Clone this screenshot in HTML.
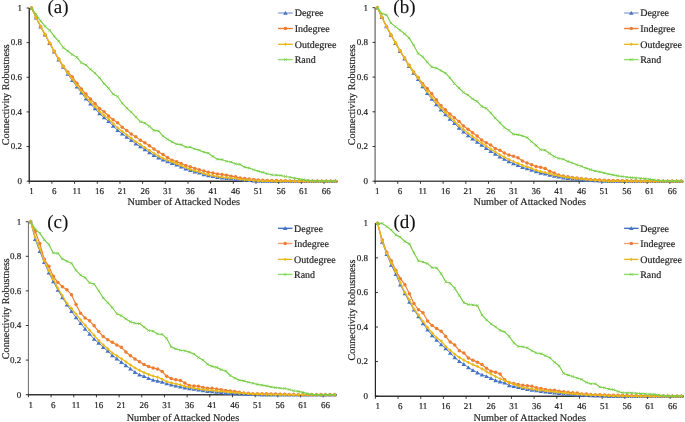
<!DOCTYPE html>
<html><head><meta charset="utf-8"><style>
html,body{margin:0;padding:0;background:#fff;width:685px;height:422px;overflow:hidden}
svg{display:block;will-change:transform}
text{font-family:"Liberation Serif",serif;fill:#1e1e1e;stroke:#1e1e1e;stroke-width:0.18px;text-rendering:geometricPrecision}
.t9{font-size:9px}
.t10{font-size:10px}
.tt{font-size:10.15px}
.tx{font-size:10.25px}
.t19{font-size:19px;fill:#111;stroke:#111;stroke-width:0.1px}
</style></head><body>
<svg width="685" height="422" viewBox="0 0 685 422">
<rect width="685" height="422" fill="#fff"/>
<g><path d="M29.24 8V181.2" stroke="#2a2a2a" stroke-width="1.4" fill="none"/><path d="M28.74 181.2H337.62" stroke="#2a2a2a" stroke-width="1.4" fill="none"/><path d="M26.64 181.2H29.24M26.64 146.56H29.24M26.64 111.92H29.24M26.64 77.28H29.24M26.64 42.64H29.24M26.64 8H29.24M29.24 181.2V183.8M51.91 181.2V183.8M74.59 181.2V183.8M97.27 181.2V183.8M119.94 181.2V183.8M142.62 181.2V183.8M165.29 181.2V183.8M187.97 181.2V183.8M210.64 181.2V183.8M233.32 181.2V183.8M255.99 181.2V183.8M278.67 181.2V183.8M301.34 181.2V183.8M324.02 181.2V183.8" stroke="#1e1e1e" stroke-width="0.9" fill="none"/><text x="22.1" y="184" text-anchor="end" class="t9">0</text><text x="22.1" y="149.36" text-anchor="end" class="t9">0.2</text><text x="22.1" y="114.72" text-anchor="end" class="t9">0.4</text><text x="22.1" y="80.08" text-anchor="end" class="t9">0.6</text><text x="22.1" y="45.44" text-anchor="end" class="t9">0.8</text><text x="22.1" y="10.8" text-anchor="end" class="t9">1</text><text x="31.51" y="194.2" text-anchor="middle" class="t9">1</text><text x="54.18" y="194.2" text-anchor="middle" class="t9">6</text><text x="76.86" y="194.2" text-anchor="middle" class="t9">11</text><text x="99.53" y="194.2" text-anchor="middle" class="t9">16</text><text x="122.21" y="194.2" text-anchor="middle" class="t9">21</text><text x="144.88" y="194.2" text-anchor="middle" class="t9">26</text><text x="167.56" y="194.2" text-anchor="middle" class="t9">31</text><text x="190.23" y="194.2" text-anchor="middle" class="t9">36</text><text x="212.91" y="194.2" text-anchor="middle" class="t9">41</text><text x="235.58" y="194.2" text-anchor="middle" class="t9">46</text><text x="258.26" y="194.2" text-anchor="middle" class="t9">51</text><text x="280.93" y="194.2" text-anchor="middle" class="t9">56</text><text x="303.61" y="194.2" text-anchor="middle" class="t9">61</text><text x="326.28" y="194.2" text-anchor="middle" class="t9">66</text><text x="127.6" y="205.4" class="tx">Number of Attacked Nodes</text><text transform="translate(9.4 94.7) rotate(-90)" text-anchor="middle" class="tt">Connectivity Robustness</text><text x="47.4" y="13.2" class="t19">(a)</text><polyline points="31.51,8 36.04,17.87 40.58,26.71 45.11,34.85 49.65,43.33 54.18,51.82 58.72,59.79 63.25,67.06 67.79,74.16 72.32,80.4 76.86,86.81 81.39,92.69 85.93,98.76 90.46,103.78 95,108.63 99.53,113.65 104.07,117.64 108.6,121.27 113.14,125.95 117.67,130.28 122.21,133.74 126.74,137.03 131.28,140.32 135.81,143.79 140.35,146.56 144.88,149.5 149.42,152.45 153.95,155.22 158.49,157.82 163.02,159.72 167.56,161.63 172.09,163.19 176.63,164.92 181.16,166.82 185.7,168.73 190.23,170.29 194.77,171.85 199.3,172.89 203.84,174.45 208.37,175.48 212.91,176.35 217.44,177.22 221.98,177.74 226.51,178.26 231.05,178.6 235.58,178.95 240.12,179.64 244.65,179.99 249.19,180.33 253.72,180.68 258.26,180.94 262.79,181.2 267.33,181.2 271.86,181.2 276.4,181.2 280.93,181.2 285.47,181.2 290,181.2 294.54,181.2 299.07,181.2 303.61,181.2 308.14,181.2 312.68,181.2 317.21,181.2 321.75,181.2 326.28,181.2 330.82,181.2 335.35,181.2" stroke="#5a84cc" stroke-width="1.0" fill="none" stroke-linejoin="round"/><path d="M29.21 9.7L31.51 5.9L33.81 9.7Z" fill="#4472c4"/><path d="M33.74 19.57L36.04 15.77L38.34 19.57Z" fill="#4472c4"/><path d="M38.28 28.41L40.58 24.61L42.88 28.41Z" fill="#4472c4"/><path d="M42.81 36.55L45.11 32.75L47.41 36.55Z" fill="#4472c4"/><path d="M47.35 45.03L49.65 41.23L51.95 45.03Z" fill="#4472c4"/><path d="M51.88 53.52L54.18 49.72L56.48 53.52Z" fill="#4472c4"/><path d="M56.42 61.49L58.72 57.69L61.02 61.49Z" fill="#4472c4"/><path d="M60.95 68.76L63.25 64.96L65.55 68.76Z" fill="#4472c4"/><path d="M65.49 75.86L67.79 72.06L70.09 75.86Z" fill="#4472c4"/><path d="M70.02 82.1L72.32 78.3L74.62 82.1Z" fill="#4472c4"/><path d="M74.56 88.51L76.86 84.71L79.16 88.51Z" fill="#4472c4"/><path d="M79.09 94.39L81.39 90.59L83.69 94.39Z" fill="#4472c4"/><path d="M83.63 100.46L85.93 96.66L88.23 100.46Z" fill="#4472c4"/><path d="M88.16 105.48L90.46 101.68L92.76 105.48Z" fill="#4472c4"/><path d="M92.7 110.33L95 106.53L97.3 110.33Z" fill="#4472c4"/><path d="M97.23 115.35L99.53 111.55L101.83 115.35Z" fill="#4472c4"/><path d="M101.77 119.34L104.07 115.54L106.37 119.34Z" fill="#4472c4"/><path d="M106.3 122.97L108.6 119.17L110.9 122.97Z" fill="#4472c4"/><path d="M110.84 127.65L113.14 123.85L115.44 127.65Z" fill="#4472c4"/><path d="M115.37 131.98L117.67 128.18L119.97 131.98Z" fill="#4472c4"/><path d="M119.91 135.44L122.21 131.64L124.51 135.44Z" fill="#4472c4"/><path d="M124.44 138.73L126.74 134.93L129.04 138.73Z" fill="#4472c4"/><path d="M128.98 142.02L131.28 138.22L133.58 142.02Z" fill="#4472c4"/><path d="M133.51 145.49L135.81 141.69L138.11 145.49Z" fill="#4472c4"/><path d="M138.05 148.26L140.35 144.46L142.65 148.26Z" fill="#4472c4"/><path d="M142.58 151.2L144.88 147.4L147.18 151.2Z" fill="#4472c4"/><path d="M147.12 154.15L149.42 150.35L151.72 154.15Z" fill="#4472c4"/><path d="M151.65 156.92L153.95 153.12L156.25 156.92Z" fill="#4472c4"/><path d="M156.19 159.52L158.49 155.72L160.79 159.52Z" fill="#4472c4"/><path d="M160.72 161.42L163.02 157.62L165.32 161.42Z" fill="#4472c4"/><path d="M165.26 163.33L167.56 159.53L169.86 163.33Z" fill="#4472c4"/><path d="M169.79 164.89L172.09 161.09L174.39 164.89Z" fill="#4472c4"/><path d="M174.33 166.62L176.63 162.82L178.93 166.62Z" fill="#4472c4"/><path d="M178.86 168.52L181.16 164.72L183.46 168.52Z" fill="#4472c4"/><path d="M183.4 170.43L185.7 166.63L188 170.43Z" fill="#4472c4"/><path d="M187.93 171.99L190.23 168.19L192.53 171.99Z" fill="#4472c4"/><path d="M192.47 173.55L194.77 169.75L197.07 173.55Z" fill="#4472c4"/><path d="M197 174.59L199.3 170.79L201.6 174.59Z" fill="#4472c4"/><path d="M201.54 176.15L203.84 172.35L206.14 176.15Z" fill="#4472c4"/><path d="M206.07 177.18L208.37 173.38L210.67 177.18Z" fill="#4472c4"/><path d="M210.61 178.05L212.91 174.25L215.21 178.05Z" fill="#4472c4"/><path d="M215.14 178.92L217.44 175.12L219.74 178.92Z" fill="#4472c4"/><path d="M219.68 179.44L221.98 175.64L224.28 179.44Z" fill="#4472c4"/><path d="M224.21 179.96L226.51 176.16L228.81 179.96Z" fill="#4472c4"/><path d="M228.75 180.3L231.05 176.5L233.35 180.3Z" fill="#4472c4"/><path d="M233.28 180.65L235.58 176.85L237.88 180.65Z" fill="#4472c4"/><path d="M237.82 181.34L240.12 177.54L242.42 181.34Z" fill="#4472c4"/><path d="M242.35 181.69L244.65 177.89L246.95 181.69Z" fill="#4472c4"/><path d="M246.89 182.03L249.19 178.23L251.49 182.03Z" fill="#4472c4"/><path d="M251.42 182.38L253.72 178.58L256.02 182.38Z" fill="#4472c4"/><path d="M255.96 182.64L258.26 178.84L260.56 182.64Z" fill="#4472c4"/><path d="M260.49 182.9L262.79 179.1L265.09 182.9Z" fill="#4472c4"/><path d="M265.03 182.9L267.33 179.1L269.63 182.9Z" fill="#4472c4"/><path d="M269.56 182.9L271.86 179.1L274.16 182.9Z" fill="#4472c4"/><path d="M274.1 182.9L276.4 179.1L278.7 182.9Z" fill="#4472c4"/><path d="M278.63 182.9L280.93 179.1L283.23 182.9Z" fill="#4472c4"/><path d="M283.17 182.9L285.47 179.1L287.77 182.9Z" fill="#4472c4"/><path d="M287.7 182.9L290 179.1L292.3 182.9Z" fill="#4472c4"/><path d="M292.24 182.9L294.54 179.1L296.84 182.9Z" fill="#4472c4"/><path d="M296.77 182.9L299.07 179.1L301.37 182.9Z" fill="#4472c4"/><path d="M301.31 182.9L303.61 179.1L305.91 182.9Z" fill="#4472c4"/><path d="M305.84 182.9L308.14 179.1L310.44 182.9Z" fill="#4472c4"/><path d="M310.38 182.9L312.68 179.1L314.98 182.9Z" fill="#4472c4"/><path d="M314.91 182.9L317.21 179.1L319.51 182.9Z" fill="#4472c4"/><path d="M319.45 182.9L321.75 179.1L324.05 182.9Z" fill="#4472c4"/><path d="M323.98 182.9L326.28 179.1L328.58 182.9Z" fill="#4472c4"/><path d="M328.52 182.9L330.82 179.1L333.12 182.9Z" fill="#4472c4"/><path d="M333.05 182.9L335.35 179.1L337.65 182.9Z" fill="#4472c4"/><polyline points="31.51,8 36.04,17.53 40.58,26.53 45.11,34.67 49.65,43.16 54.18,51.3 58.72,59.09 63.25,66.2 67.79,72.08 72.32,76.93 76.86,83.17 81.39,88.88 85.93,94.08 90.46,99.1 95,103.43 99.53,108.46 104.07,111.75 108.6,116.08 113.14,119.71 117.67,122.66 122.21,127.16 126.74,130.45 131.28,133.92 135.81,136.86 140.35,140.15 144.88,142.75 149.42,145.69 153.95,148.98 158.49,151.93 163.02,154.53 167.56,157.47 172.09,160.24 176.63,161.63 181.16,163.53 185.7,165.44 190.23,166.82 194.77,168.38 199.3,169.77 203.84,170.98 208.37,172.19 212.91,173.06 217.44,173.93 221.98,174.62 226.51,175.14 231.05,176.18 235.58,176.87 240.12,178.08 244.65,178.6 249.19,178.95 253.72,179.47 258.26,179.99 262.79,180.33 267.33,180.42 271.86,180.51 276.4,180.59 280.93,180.68 285.47,180.85 290,181.03 294.54,181.2 299.07,181.2 303.61,181.2 308.14,181.2 312.68,181.2 317.21,181.2 321.75,181.2 326.28,181.2 330.82,181.2 335.35,181.2" stroke="#ed7d31" stroke-width="1.15" fill="none" stroke-linejoin="round"/><circle cx="31.51" cy="8" r="1.75" fill="#ed7d31"/><circle cx="36.04" cy="17.53" r="1.75" fill="#ed7d31"/><circle cx="40.58" cy="26.53" r="1.75" fill="#ed7d31"/><circle cx="45.11" cy="34.67" r="1.75" fill="#ed7d31"/><circle cx="49.65" cy="43.16" r="1.75" fill="#ed7d31"/><circle cx="54.18" cy="51.3" r="1.75" fill="#ed7d31"/><circle cx="58.72" cy="59.09" r="1.75" fill="#ed7d31"/><circle cx="63.25" cy="66.2" r="1.75" fill="#ed7d31"/><circle cx="67.79" cy="72.08" r="1.75" fill="#ed7d31"/><circle cx="72.32" cy="76.93" r="1.75" fill="#ed7d31"/><circle cx="76.86" cy="83.17" r="1.75" fill="#ed7d31"/><circle cx="81.39" cy="88.88" r="1.75" fill="#ed7d31"/><circle cx="85.93" cy="94.08" r="1.75" fill="#ed7d31"/><circle cx="90.46" cy="99.1" r="1.75" fill="#ed7d31"/><circle cx="95" cy="103.43" r="1.75" fill="#ed7d31"/><circle cx="99.53" cy="108.46" r="1.75" fill="#ed7d31"/><circle cx="104.07" cy="111.75" r="1.75" fill="#ed7d31"/><circle cx="108.6" cy="116.08" r="1.75" fill="#ed7d31"/><circle cx="113.14" cy="119.71" r="1.75" fill="#ed7d31"/><circle cx="117.67" cy="122.66" r="1.75" fill="#ed7d31"/><circle cx="122.21" cy="127.16" r="1.75" fill="#ed7d31"/><circle cx="126.74" cy="130.45" r="1.75" fill="#ed7d31"/><circle cx="131.28" cy="133.92" r="1.75" fill="#ed7d31"/><circle cx="135.81" cy="136.86" r="1.75" fill="#ed7d31"/><circle cx="140.35" cy="140.15" r="1.75" fill="#ed7d31"/><circle cx="144.88" cy="142.75" r="1.75" fill="#ed7d31"/><circle cx="149.42" cy="145.69" r="1.75" fill="#ed7d31"/><circle cx="153.95" cy="148.98" r="1.75" fill="#ed7d31"/><circle cx="158.49" cy="151.93" r="1.75" fill="#ed7d31"/><circle cx="163.02" cy="154.53" r="1.75" fill="#ed7d31"/><circle cx="167.56" cy="157.47" r="1.75" fill="#ed7d31"/><circle cx="172.09" cy="160.24" r="1.75" fill="#ed7d31"/><circle cx="176.63" cy="161.63" r="1.75" fill="#ed7d31"/><circle cx="181.16" cy="163.53" r="1.75" fill="#ed7d31"/><circle cx="185.7" cy="165.44" r="1.75" fill="#ed7d31"/><circle cx="190.23" cy="166.82" r="1.75" fill="#ed7d31"/><circle cx="194.77" cy="168.38" r="1.75" fill="#ed7d31"/><circle cx="199.3" cy="169.77" r="1.75" fill="#ed7d31"/><circle cx="203.84" cy="170.98" r="1.75" fill="#ed7d31"/><circle cx="208.37" cy="172.19" r="1.75" fill="#ed7d31"/><circle cx="212.91" cy="173.06" r="1.75" fill="#ed7d31"/><circle cx="217.44" cy="173.93" r="1.75" fill="#ed7d31"/><circle cx="221.98" cy="174.62" r="1.75" fill="#ed7d31"/><circle cx="226.51" cy="175.14" r="1.75" fill="#ed7d31"/><circle cx="231.05" cy="176.18" r="1.75" fill="#ed7d31"/><circle cx="235.58" cy="176.87" r="1.75" fill="#ed7d31"/><circle cx="240.12" cy="178.08" r="1.75" fill="#ed7d31"/><circle cx="244.65" cy="178.6" r="1.75" fill="#ed7d31"/><circle cx="249.19" cy="178.95" r="1.75" fill="#ed7d31"/><circle cx="253.72" cy="179.47" r="1.75" fill="#ed7d31"/><circle cx="258.26" cy="179.99" r="1.75" fill="#ed7d31"/><circle cx="262.79" cy="180.33" r="1.75" fill="#ed7d31"/><circle cx="267.33" cy="180.42" r="1.75" fill="#ed7d31"/><circle cx="271.86" cy="180.51" r="1.75" fill="#ed7d31"/><circle cx="276.4" cy="180.59" r="1.75" fill="#ed7d31"/><circle cx="280.93" cy="180.68" r="1.75" fill="#ed7d31"/><circle cx="285.47" cy="180.85" r="1.75" fill="#ed7d31"/><circle cx="290" cy="181.03" r="1.75" fill="#ed7d31"/><circle cx="294.54" cy="181.2" r="1.75" fill="#ed7d31"/><circle cx="299.07" cy="181.2" r="1.75" fill="#ed7d31"/><circle cx="303.61" cy="181.2" r="1.75" fill="#ed7d31"/><circle cx="308.14" cy="181.2" r="1.75" fill="#ed7d31"/><circle cx="312.68" cy="181.2" r="1.75" fill="#ed7d31"/><circle cx="317.21" cy="181.2" r="1.75" fill="#ed7d31"/><circle cx="321.75" cy="181.2" r="1.75" fill="#ed7d31"/><circle cx="326.28" cy="181.2" r="1.75" fill="#ed7d31"/><circle cx="330.82" cy="181.2" r="1.75" fill="#ed7d31"/><circle cx="335.35" cy="181.2" r="1.75" fill="#ed7d31"/><polyline points="31.51,8 36.04,17.61 40.58,26.19 45.11,34.29 49.65,42.74 54.18,51.2 58.72,59.13 63.25,66.37 67.79,73.12 72.32,79.01 76.86,85.28 81.39,91.03 85.93,96.96 90.46,101.84 95,106.55 99.53,111.5 104.07,115.42 108.6,118.99 113.14,123.59 117.67,127.85 122.21,131.39 126.74,134.75 131.28,138.11 135.81,141.64 140.35,144.48 144.88,147.47 149.42,150.46 153.95,153.27 158.49,155.91 163.02,158.34 167.56,160.24 172.09,161.8 176.63,163.53 181.16,165.51 185.7,167.49 190.23,169.13 194.77,170.76 199.3,171.87 203.84,173.5 208.37,174.62 212.91,175.55 217.44,176.49 221.98,177.08 226.51,177.67 231.05,178.08 235.58,178.5 240.12,179.26 244.65,179.68 249.19,180.09 253.72,180.51 258.26,180.85 262.79,181.2 267.33,181.2 271.86,181.2 276.4,181.2 280.93,181.2 285.47,181.2 290,181.2 294.54,181.2 299.07,181.2 303.61,181.2 308.14,181.2 312.68,181.2 317.21,181.2 321.75,181.2 326.28,181.2 330.82,181.2 335.35,181.2" stroke="#e8b91e" stroke-width="1.3" fill="none" stroke-linejoin="round"/><path d="M30.01 8H33.01M31.51 6.5V9.5" stroke="#e8b91e" stroke-width="1.2" fill="none"/><path d="M34.54 17.61H37.54M36.04 16.11V19.11" stroke="#e8b91e" stroke-width="1.2" fill="none"/><path d="M39.08 26.19H42.08M40.58 24.69V27.69" stroke="#e8b91e" stroke-width="1.2" fill="none"/><path d="M43.61 34.29H46.61M45.11 32.79V35.79" stroke="#e8b91e" stroke-width="1.2" fill="none"/><path d="M48.15 42.74H51.15M49.65 41.24V44.24" stroke="#e8b91e" stroke-width="1.2" fill="none"/><path d="M52.68 51.2H55.68M54.18 49.7V52.7" stroke="#e8b91e" stroke-width="1.2" fill="none"/><path d="M57.22 59.13H60.22M58.72 57.63V60.63" stroke="#e8b91e" stroke-width="1.2" fill="none"/><path d="M61.75 66.37H64.75M63.25 64.87V67.87" stroke="#e8b91e" stroke-width="1.2" fill="none"/><path d="M66.29 73.12H69.29M67.79 71.62V74.62" stroke="#e8b91e" stroke-width="1.2" fill="none"/><path d="M70.82 79.01H73.82M72.32 77.51V80.51" stroke="#e8b91e" stroke-width="1.2" fill="none"/><path d="M75.36 85.28H78.36M76.86 83.78V86.78" stroke="#e8b91e" stroke-width="1.2" fill="none"/><path d="M79.89 91.03H82.89M81.39 89.53V92.53" stroke="#e8b91e" stroke-width="1.2" fill="none"/><path d="M84.43 96.96H87.43M85.93 95.46V98.46" stroke="#e8b91e" stroke-width="1.2" fill="none"/><path d="M88.96 101.84H91.96M90.46 100.34V103.34" stroke="#e8b91e" stroke-width="1.2" fill="none"/><path d="M93.5 106.55H96.5M95 105.05V108.05" stroke="#e8b91e" stroke-width="1.2" fill="none"/><path d="M98.03 111.5H101.03M99.53 110V113" stroke="#e8b91e" stroke-width="1.2" fill="none"/><path d="M102.57 115.42H105.57M104.07 113.92V116.92" stroke="#e8b91e" stroke-width="1.2" fill="none"/><path d="M107.1 118.99H110.1M108.6 117.49V120.49" stroke="#e8b91e" stroke-width="1.2" fill="none"/><path d="M111.64 123.59H114.64M113.14 122.09V125.09" stroke="#e8b91e" stroke-width="1.2" fill="none"/><path d="M116.17 127.85H119.17M117.67 126.35V129.35" stroke="#e8b91e" stroke-width="1.2" fill="none"/><path d="M120.71 131.39H123.71M122.21 129.89V132.89" stroke="#e8b91e" stroke-width="1.2" fill="none"/><path d="M125.24 134.75H128.24M126.74 133.25V136.25" stroke="#e8b91e" stroke-width="1.2" fill="none"/><path d="M129.78 138.11H132.78M131.28 136.61V139.61" stroke="#e8b91e" stroke-width="1.2" fill="none"/><path d="M134.31 141.64H137.31M135.81 140.14V143.14" stroke="#e8b91e" stroke-width="1.2" fill="none"/><path d="M138.85 144.48H141.85M140.35 142.98V145.98" stroke="#e8b91e" stroke-width="1.2" fill="none"/><path d="M143.38 147.47H146.38M144.88 145.97V148.97" stroke="#e8b91e" stroke-width="1.2" fill="none"/><path d="M147.92 150.46H150.92M149.42 148.96V151.96" stroke="#e8b91e" stroke-width="1.2" fill="none"/><path d="M152.45 153.27H155.45M153.95 151.77V154.77" stroke="#e8b91e" stroke-width="1.2" fill="none"/><path d="M156.99 155.91H159.99M158.49 154.41V157.41" stroke="#e8b91e" stroke-width="1.2" fill="none"/><path d="M161.52 158.34H164.52M163.02 156.84V159.84" stroke="#e8b91e" stroke-width="1.2" fill="none"/><path d="M166.06 160.24H169.06M167.56 158.74V161.74" stroke="#e8b91e" stroke-width="1.2" fill="none"/><path d="M170.59 161.8H173.59M172.09 160.3V163.3" stroke="#e8b91e" stroke-width="1.2" fill="none"/><path d="M175.13 163.53H178.13M176.63 162.03V165.03" stroke="#e8b91e" stroke-width="1.2" fill="none"/><path d="M179.66 165.51H182.66M181.16 164.01V167.01" stroke="#e8b91e" stroke-width="1.2" fill="none"/><path d="M184.2 167.49H187.2M185.7 165.99V168.99" stroke="#e8b91e" stroke-width="1.2" fill="none"/><path d="M188.73 169.13H191.73M190.23 167.63V170.63" stroke="#e8b91e" stroke-width="1.2" fill="none"/><path d="M193.27 170.76H196.27M194.77 169.26V172.26" stroke="#e8b91e" stroke-width="1.2" fill="none"/><path d="M197.8 171.87H200.8M199.3 170.37V173.37" stroke="#e8b91e" stroke-width="1.2" fill="none"/><path d="M202.34 173.5H205.34M203.84 172V175" stroke="#e8b91e" stroke-width="1.2" fill="none"/><path d="M206.87 174.62H209.87M208.37 173.12V176.12" stroke="#e8b91e" stroke-width="1.2" fill="none"/><path d="M211.41 175.55H214.41M212.91 174.05V177.05" stroke="#e8b91e" stroke-width="1.2" fill="none"/><path d="M215.94 176.49H218.94M217.44 174.99V177.99" stroke="#e8b91e" stroke-width="1.2" fill="none"/><path d="M220.48 177.08H223.48M221.98 175.58V178.58" stroke="#e8b91e" stroke-width="1.2" fill="none"/><path d="M225.01 177.67H228.01M226.51 176.17V179.17" stroke="#e8b91e" stroke-width="1.2" fill="none"/><path d="M229.55 178.08H232.55M231.05 176.58V179.58" stroke="#e8b91e" stroke-width="1.2" fill="none"/><path d="M234.08 178.5H237.08M235.58 177V180" stroke="#e8b91e" stroke-width="1.2" fill="none"/><path d="M238.62 179.26H241.62M240.12 177.76V180.76" stroke="#e8b91e" stroke-width="1.2" fill="none"/><path d="M243.15 179.68H246.15M244.65 178.18V181.18" stroke="#e8b91e" stroke-width="1.2" fill="none"/><path d="M247.69 180.09H250.69M249.19 178.59V181.59" stroke="#e8b91e" stroke-width="1.2" fill="none"/><path d="M252.22 180.51H255.22M253.72 179.01V182.01" stroke="#e8b91e" stroke-width="1.2" fill="none"/><path d="M256.76 180.85H259.76M258.26 179.35V182.35" stroke="#e8b91e" stroke-width="1.2" fill="none"/><path d="M261.29 181.2H264.29M262.79 179.7V182.7" stroke="#e8b91e" stroke-width="1.2" fill="none"/><path d="M265.83 181.2H268.83M267.33 179.7V182.7" stroke="#e8b91e" stroke-width="1.2" fill="none"/><path d="M270.36 181.2H273.36M271.86 179.7V182.7" stroke="#e8b91e" stroke-width="1.2" fill="none"/><path d="M274.9 181.2H277.9M276.4 179.7V182.7" stroke="#e8b91e" stroke-width="1.2" fill="none"/><path d="M279.43 181.2H282.43M280.93 179.7V182.7" stroke="#e8b91e" stroke-width="1.2" fill="none"/><path d="M283.97 181.2H286.97M285.47 179.7V182.7" stroke="#e8b91e" stroke-width="1.2" fill="none"/><path d="M288.5 181.2H291.5M290 179.7V182.7" stroke="#e8b91e" stroke-width="1.2" fill="none"/><path d="M293.04 181.2H296.04M294.54 179.7V182.7" stroke="#e8b91e" stroke-width="1.2" fill="none"/><path d="M297.57 181.2H300.57M299.07 179.7V182.7" stroke="#e8b91e" stroke-width="1.2" fill="none"/><path d="M302.11 181.2H305.11M303.61 179.7V182.7" stroke="#e8b91e" stroke-width="1.2" fill="none"/><path d="M306.64 181.2H309.64M308.14 179.7V182.7" stroke="#e8b91e" stroke-width="1.2" fill="none"/><path d="M311.18 181.2H314.18M312.68 179.7V182.7" stroke="#e8b91e" stroke-width="1.2" fill="none"/><path d="M315.71 181.2H318.71M317.21 179.7V182.7" stroke="#e8b91e" stroke-width="1.2" fill="none"/><path d="M320.25 181.2H323.25M321.75 179.7V182.7" stroke="#e8b91e" stroke-width="1.2" fill="none"/><path d="M324.78 181.2H327.78M326.28 179.7V182.7" stroke="#e8b91e" stroke-width="1.2" fill="none"/><path d="M329.32 181.2H332.32M330.82 179.7V182.7" stroke="#e8b91e" stroke-width="1.2" fill="none"/><path d="M333.85 181.2H336.85M335.35 179.7V182.7" stroke="#e8b91e" stroke-width="1.2" fill="none"/><polyline points="31.51,8 36.04,14.24 40.58,20.99 45.11,26.36 49.65,30.34 54.18,36.23 58.72,41.25 63.25,47.49 67.79,50.95 72.32,54.59 76.86,57.36 81.39,62.73 85.93,64.98 90.46,69.31 95,73.12 99.53,77.8 104.07,83.52 108.6,88.36 113.14,94.25 117.67,96.51 122.21,103.26 126.74,107.94 131.28,112.09 135.81,116.94 140.35,121.62 144.88,123.18 149.42,126.3 153.95,130.45 158.49,130.97 163.02,136.17 167.56,139.29 172.09,141.88 176.63,144.14 181.16,144.65 185.7,147.08 190.23,147.08 194.77,148.98 199.3,150.2 203.84,152.1 208.37,153.14 212.91,156.43 217.44,159.2 221.98,159.55 226.51,161.28 231.05,161.97 235.58,163.88 240.12,164.4 244.65,167.17 249.19,168.04 253.72,169.77 258.26,171.15 262.79,172.37 267.33,173.75 271.86,174.79 276.4,175.14 280.93,175.48 285.47,176.52 290,177.22 294.54,178.08 299.07,178.95 303.61,179.64 308.14,180.33 312.68,180.85 317.21,181.2 321.75,181.2 326.28,181.2 330.82,181.2 335.35,181.2" stroke="#7bd04a" stroke-width="1.2" fill="none" stroke-linejoin="round"/><path d="M30.21 6.7L32.81 9.3M32.81 6.7L30.21 9.3" stroke="#74ca44" stroke-width="0.7" fill="none"/><path d="M34.74 12.94L37.34 15.54M37.34 12.94L34.74 15.54" stroke="#74ca44" stroke-width="0.7" fill="none"/><path d="M39.28 19.69L41.88 22.29M41.88 19.69L39.28 22.29" stroke="#74ca44" stroke-width="0.7" fill="none"/><path d="M43.81 25.06L46.41 27.66M46.41 25.06L43.81 27.66" stroke="#74ca44" stroke-width="0.7" fill="none"/><path d="M48.35 29.04L50.95 31.64M50.95 29.04L48.35 31.64" stroke="#74ca44" stroke-width="0.7" fill="none"/><path d="M52.88 34.93L55.48 37.53M55.48 34.93L52.88 37.53" stroke="#74ca44" stroke-width="0.7" fill="none"/><path d="M57.42 39.95L60.02 42.55M60.02 39.95L57.42 42.55" stroke="#74ca44" stroke-width="0.7" fill="none"/><path d="M61.95 46.19L64.55 48.79M64.55 46.19L61.95 48.79" stroke="#74ca44" stroke-width="0.7" fill="none"/><path d="M66.49 49.65L69.09 52.25M69.09 49.65L66.49 52.25" stroke="#74ca44" stroke-width="0.7" fill="none"/><path d="M71.02 53.29L73.62 55.89M73.62 53.29L71.02 55.89" stroke="#74ca44" stroke-width="0.7" fill="none"/><path d="M75.56 56.06L78.16 58.66M78.16 56.06L75.56 58.66" stroke="#74ca44" stroke-width="0.7" fill="none"/><path d="M80.09 61.43L82.69 64.03M82.69 61.43L80.09 64.03" stroke="#74ca44" stroke-width="0.7" fill="none"/><path d="M84.63 63.68L87.23 66.28M87.23 63.68L84.63 66.28" stroke="#74ca44" stroke-width="0.7" fill="none"/><path d="M89.16 68.01L91.76 70.61M91.76 68.01L89.16 70.61" stroke="#74ca44" stroke-width="0.7" fill="none"/><path d="M93.7 71.82L96.3 74.42M96.3 71.82L93.7 74.42" stroke="#74ca44" stroke-width="0.7" fill="none"/><path d="M98.23 76.5L100.83 79.1M100.83 76.5L98.23 79.1" stroke="#74ca44" stroke-width="0.7" fill="none"/><path d="M102.77 82.22L105.37 84.82M105.37 82.22L102.77 84.82" stroke="#74ca44" stroke-width="0.7" fill="none"/><path d="M107.3 87.06L109.9 89.66M109.9 87.06L107.3 89.66" stroke="#74ca44" stroke-width="0.7" fill="none"/><path d="M111.84 92.95L114.44 95.55M114.44 92.95L111.84 95.55" stroke="#74ca44" stroke-width="0.7" fill="none"/><path d="M116.37 95.21L118.97 97.81M118.97 95.21L116.37 97.81" stroke="#74ca44" stroke-width="0.7" fill="none"/><path d="M120.91 101.96L123.51 104.56M123.51 101.96L120.91 104.56" stroke="#74ca44" stroke-width="0.7" fill="none"/><path d="M125.44 106.64L128.04 109.24M128.04 106.64L125.44 109.24" stroke="#74ca44" stroke-width="0.7" fill="none"/><path d="M129.98 110.79L132.58 113.39M132.58 110.79L129.98 113.39" stroke="#74ca44" stroke-width="0.7" fill="none"/><path d="M134.51 115.64L137.11 118.24M137.11 115.64L134.51 118.24" stroke="#74ca44" stroke-width="0.7" fill="none"/><path d="M139.05 120.32L141.65 122.92M141.65 120.32L139.05 122.92" stroke="#74ca44" stroke-width="0.7" fill="none"/><path d="M143.58 121.88L146.18 124.48M146.18 121.88L143.58 124.48" stroke="#74ca44" stroke-width="0.7" fill="none"/><path d="M148.12 125L150.72 127.6M150.72 125L148.12 127.6" stroke="#74ca44" stroke-width="0.7" fill="none"/><path d="M152.65 129.15L155.25 131.75M155.25 129.15L152.65 131.75" stroke="#74ca44" stroke-width="0.7" fill="none"/><path d="M157.19 129.67L159.79 132.27M159.79 129.67L157.19 132.27" stroke="#74ca44" stroke-width="0.7" fill="none"/><path d="M161.72 134.87L164.32 137.47M164.32 134.87L161.72 137.47" stroke="#74ca44" stroke-width="0.7" fill="none"/><path d="M166.26 137.99L168.86 140.59M168.86 137.99L166.26 140.59" stroke="#74ca44" stroke-width="0.7" fill="none"/><path d="M170.79 140.58L173.39 143.18M173.39 140.58L170.79 143.18" stroke="#74ca44" stroke-width="0.7" fill="none"/><path d="M175.33 142.84L177.93 145.44M177.93 142.84L175.33 145.44" stroke="#74ca44" stroke-width="0.7" fill="none"/><path d="M179.86 143.35L182.46 145.95M182.46 143.35L179.86 145.95" stroke="#74ca44" stroke-width="0.7" fill="none"/><path d="M184.4 145.78L187 148.38M187 145.78L184.4 148.38" stroke="#74ca44" stroke-width="0.7" fill="none"/><path d="M188.93 145.78L191.53 148.38M191.53 145.78L188.93 148.38" stroke="#74ca44" stroke-width="0.7" fill="none"/><path d="M193.47 147.68L196.07 150.28M196.07 147.68L193.47 150.28" stroke="#74ca44" stroke-width="0.7" fill="none"/><path d="M198 148.9L200.6 151.5M200.6 148.9L198 151.5" stroke="#74ca44" stroke-width="0.7" fill="none"/><path d="M202.54 150.8L205.14 153.4M205.14 150.8L202.54 153.4" stroke="#74ca44" stroke-width="0.7" fill="none"/><path d="M207.07 151.84L209.67 154.44M209.67 151.84L207.07 154.44" stroke="#74ca44" stroke-width="0.7" fill="none"/><path d="M211.61 155.13L214.21 157.73M214.21 155.13L211.61 157.73" stroke="#74ca44" stroke-width="0.7" fill="none"/><path d="M216.14 157.9L218.74 160.5M218.74 157.9L216.14 160.5" stroke="#74ca44" stroke-width="0.7" fill="none"/><path d="M220.68 158.25L223.28 160.85M223.28 158.25L220.68 160.85" stroke="#74ca44" stroke-width="0.7" fill="none"/><path d="M225.21 159.98L227.81 162.58M227.81 159.98L225.21 162.58" stroke="#74ca44" stroke-width="0.7" fill="none"/><path d="M229.75 160.67L232.35 163.27M232.35 160.67L229.75 163.27" stroke="#74ca44" stroke-width="0.7" fill="none"/><path d="M234.28 162.58L236.88 165.18M236.88 162.58L234.28 165.18" stroke="#74ca44" stroke-width="0.7" fill="none"/><path d="M238.82 163.1L241.42 165.7M241.42 163.1L238.82 165.7" stroke="#74ca44" stroke-width="0.7" fill="none"/><path d="M243.35 165.87L245.95 168.47M245.95 165.87L243.35 168.47" stroke="#74ca44" stroke-width="0.7" fill="none"/><path d="M247.89 166.74L250.49 169.34M250.49 166.74L247.89 169.34" stroke="#74ca44" stroke-width="0.7" fill="none"/><path d="M252.42 168.47L255.02 171.07M255.02 168.47L252.42 171.07" stroke="#74ca44" stroke-width="0.7" fill="none"/><path d="M256.96 169.85L259.56 172.45M259.56 169.85L256.96 172.45" stroke="#74ca44" stroke-width="0.7" fill="none"/><path d="M261.49 171.07L264.09 173.67M264.09 171.07L261.49 173.67" stroke="#74ca44" stroke-width="0.7" fill="none"/><path d="M266.03 172.45L268.63 175.05M268.63 172.45L266.03 175.05" stroke="#74ca44" stroke-width="0.7" fill="none"/><path d="M270.56 173.49L273.16 176.09M273.16 173.49L270.56 176.09" stroke="#74ca44" stroke-width="0.7" fill="none"/><path d="M275.1 173.84L277.7 176.44M277.7 173.84L275.1 176.44" stroke="#74ca44" stroke-width="0.7" fill="none"/><path d="M279.63 174.18L282.23 176.78M282.23 174.18L279.63 176.78" stroke="#74ca44" stroke-width="0.7" fill="none"/><path d="M284.17 175.22L286.77 177.82M286.77 175.22L284.17 177.82" stroke="#74ca44" stroke-width="0.7" fill="none"/><path d="M288.7 175.92L291.3 178.52M291.3 175.92L288.7 178.52" stroke="#74ca44" stroke-width="0.7" fill="none"/><path d="M293.24 176.78L295.84 179.38M295.84 176.78L293.24 179.38" stroke="#74ca44" stroke-width="0.7" fill="none"/><path d="M297.77 177.65L300.37 180.25M300.37 177.65L297.77 180.25" stroke="#74ca44" stroke-width="0.7" fill="none"/><path d="M302.31 178.34L304.91 180.94M304.91 178.34L302.31 180.94" stroke="#74ca44" stroke-width="0.7" fill="none"/><path d="M306.84 179.03L309.44 181.63M309.44 179.03L306.84 181.63" stroke="#74ca44" stroke-width="0.7" fill="none"/><path d="M311.38 179.55L313.98 182.15M313.98 179.55L311.38 182.15" stroke="#74ca44" stroke-width="0.7" fill="none"/><path d="M315.91 179.9L318.51 182.5M318.51 179.9L315.91 182.5" stroke="#74ca44" stroke-width="0.7" fill="none"/><path d="M320.45 179.9L323.05 182.5M323.05 179.9L320.45 182.5" stroke="#74ca44" stroke-width="0.7" fill="none"/><path d="M324.98 179.9L327.58 182.5M327.58 179.9L324.98 182.5" stroke="#74ca44" stroke-width="0.7" fill="none"/><path d="M329.52 179.9L332.12 182.5M332.12 179.9L329.52 182.5" stroke="#74ca44" stroke-width="0.7" fill="none"/><path d="M334.05 179.9L336.65 182.5M336.65 179.9L334.05 182.5" stroke="#74ca44" stroke-width="0.7" fill="none"/><path d="M278.1 13H292.8" stroke="#8fa9dc" stroke-width="1.4"/><path d="M283.15 14.7L285.45 10.9L287.75 14.7Z" fill="#4472c4"/><text x="294.7" y="16.4" class="t10">Degree</text><path d="M278.1 28.5H292.8" stroke="#ed7d31" stroke-width="1.4"/><circle cx="285.45" cy="28.5" r="1.75" fill="#ed7d31"/><text x="294.7" y="31.9" class="t10">Indegree</text><path d="M278.1 44.3H292.8" stroke="#e8b91e" stroke-width="1.4"/><path d="M283.95 44.3H286.95M285.45 42.8V45.8" stroke="#e8b91e" stroke-width="1.2" fill="none"/><text x="294.7" y="47.7" class="t10">Outdegree</text><path d="M278.1 59.6H292.8" stroke="#8fdc6a" stroke-width="1.4"/><path d="M284.15 58.3L286.75 60.9M286.75 58.3L284.15 60.9" stroke="#74ca44" stroke-width="0.7" fill="none"/><text x="294.7" y="63" class="t10">Rand</text></g><g><path d="M375.1 7.7V181.2" stroke="#6e6e6e" stroke-width="1.3" fill="none"/><path d="M374.6 181.2H683.48" stroke="#505050" stroke-width="1.4" fill="none"/><path d="M372.5 181.2H375.1M372.5 146.5H375.1M372.5 111.8H375.1M372.5 77.1H375.1M372.5 42.4H375.1M372.5 7.7H375.1M375.1 181.2V183.8M397.78 181.2V183.8M420.45 181.2V183.8M443.12 181.2V183.8M465.8 181.2V183.8M488.48 181.2V183.8M511.15 181.2V183.8M533.83 181.2V183.8M556.5 181.2V183.8M579.18 181.2V183.8M601.85 181.2V183.8M624.53 181.2V183.8M647.2 181.2V183.8M669.88 181.2V183.8" stroke="#1e1e1e" stroke-width="0.9" fill="none"/><text x="367.9" y="184" text-anchor="end" class="t9">0</text><text x="367.9" y="149.3" text-anchor="end" class="t9">0.2</text><text x="367.9" y="114.6" text-anchor="end" class="t9">0.4</text><text x="367.9" y="79.9" text-anchor="end" class="t9">0.6</text><text x="367.9" y="45.2" text-anchor="end" class="t9">0.8</text><text x="367.9" y="10.5" text-anchor="end" class="t9">1</text><text x="377.37" y="194.2" text-anchor="middle" class="t9">1</text><text x="400.04" y="194.2" text-anchor="middle" class="t9">6</text><text x="422.72" y="194.2" text-anchor="middle" class="t9">11</text><text x="445.39" y="194.2" text-anchor="middle" class="t9">16</text><text x="468.07" y="194.2" text-anchor="middle" class="t9">21</text><text x="490.74" y="194.2" text-anchor="middle" class="t9">26</text><text x="513.42" y="194.2" text-anchor="middle" class="t9">31</text><text x="536.09" y="194.2" text-anchor="middle" class="t9">36</text><text x="558.77" y="194.2" text-anchor="middle" class="t9">41</text><text x="581.44" y="194.2" text-anchor="middle" class="t9">46</text><text x="604.12" y="194.2" text-anchor="middle" class="t9">51</text><text x="626.79" y="194.2" text-anchor="middle" class="t9">56</text><text x="649.47" y="194.2" text-anchor="middle" class="t9">61</text><text x="672.14" y="194.2" text-anchor="middle" class="t9">66</text><text x="473.6" y="205.4" class="tx">Number of Attacked Nodes</text><text transform="translate(355.4 94.7) rotate(-90)" text-anchor="middle" class="tt">Connectivity Robustness</text><text x="393.35" y="13.2" class="t19">(b)</text><polyline points="377.37,7.7 381.9,17.42 386.44,26.61 390.97,35.11 395.51,43.27 400.04,51.25 404.58,58.71 409.11,66.34 413.65,72.94 418.18,79.18 422.72,86.47 427.25,93.24 431.79,98.96 436.32,104.51 440.86,109.72 445.39,114.58 449.93,119.09 454.46,123.42 459,127.94 463.53,131.75 468.07,135.57 472.6,138.69 477.14,141.99 481.67,145.11 486.21,148.23 490.74,151.18 495.28,153.96 499.81,156.91 504.35,159.17 508.88,161.59 513.42,163.5 517.95,165.41 522.49,167.32 527.02,168.53 531.56,170.1 536.09,171.66 540.63,173.05 545.16,173.91 549.7,175.13 554.23,176.17 558.77,176.86 563.3,177.73 567.84,178.25 572.37,178.77 576.91,179.12 581.44,179.46 585.98,179.99 590.51,180.33 595.05,180.59 599.58,180.85 604.12,181.03 608.65,181.2 613.19,181.2 617.72,181.2 622.26,181.2 626.79,181.2 631.33,181.2 635.86,181.2 640.4,181.2 644.93,181.2 649.47,181.2 654,181.2 658.54,181.2 663.07,181.2 667.61,181.2 672.14,181.2 676.68,181.2 681.21,181.2" stroke="#5a84cc" stroke-width="1.0" fill="none" stroke-linejoin="round"/><path d="M375.07 9.4L377.37 5.6L379.67 9.4Z" fill="#4472c4"/><path d="M379.6 19.12L381.9 15.32L384.2 19.12Z" fill="#4472c4"/><path d="M384.14 28.31L386.44 24.51L388.74 28.31Z" fill="#4472c4"/><path d="M388.67 36.81L390.97 33.01L393.27 36.81Z" fill="#4472c4"/><path d="M393.21 44.97L395.51 41.17L397.81 44.97Z" fill="#4472c4"/><path d="M397.74 52.95L400.04 49.15L402.34 52.95Z" fill="#4472c4"/><path d="M402.28 60.41L404.58 56.61L406.88 60.41Z" fill="#4472c4"/><path d="M406.81 68.04L409.11 64.24L411.41 68.04Z" fill="#4472c4"/><path d="M411.35 74.64L413.65 70.84L415.95 74.64Z" fill="#4472c4"/><path d="M415.88 80.88L418.18 77.08L420.48 80.88Z" fill="#4472c4"/><path d="M420.42 88.17L422.72 84.37L425.02 88.17Z" fill="#4472c4"/><path d="M424.95 94.94L427.25 91.14L429.55 94.94Z" fill="#4472c4"/><path d="M429.49 100.66L431.79 96.86L434.09 100.66Z" fill="#4472c4"/><path d="M434.02 106.21L436.32 102.41L438.62 106.21Z" fill="#4472c4"/><path d="M438.56 111.42L440.86 107.62L443.16 111.42Z" fill="#4472c4"/><path d="M443.09 116.28L445.39 112.48L447.69 116.28Z" fill="#4472c4"/><path d="M447.63 120.79L449.93 116.99L452.23 120.79Z" fill="#4472c4"/><path d="M452.16 125.12L454.46 121.32L456.76 125.12Z" fill="#4472c4"/><path d="M456.7 129.64L459 125.84L461.3 129.64Z" fill="#4472c4"/><path d="M461.23 133.45L463.53 129.65L465.83 133.45Z" fill="#4472c4"/><path d="M465.77 137.27L468.07 133.47L470.37 137.27Z" fill="#4472c4"/><path d="M470.3 140.39L472.6 136.59L474.9 140.39Z" fill="#4472c4"/><path d="M474.84 143.69L477.14 139.89L479.44 143.69Z" fill="#4472c4"/><path d="M479.37 146.81L481.67 143.01L483.97 146.81Z" fill="#4472c4"/><path d="M483.91 149.93L486.21 146.13L488.51 149.93Z" fill="#4472c4"/><path d="M488.44 152.88L490.74 149.08L493.04 152.88Z" fill="#4472c4"/><path d="M492.98 155.66L495.28 151.86L497.58 155.66Z" fill="#4472c4"/><path d="M497.51 158.61L499.81 154.81L502.11 158.61Z" fill="#4472c4"/><path d="M502.05 160.87L504.35 157.07L506.65 160.87Z" fill="#4472c4"/><path d="M506.58 163.29L508.88 159.49L511.18 163.29Z" fill="#4472c4"/><path d="M511.12 165.2L513.42 161.4L515.72 165.2Z" fill="#4472c4"/><path d="M515.65 167.11L517.95 163.31L520.25 167.11Z" fill="#4472c4"/><path d="M520.19 169.02L522.49 165.22L524.79 169.02Z" fill="#4472c4"/><path d="M524.72 170.23L527.02 166.43L529.32 170.23Z" fill="#4472c4"/><path d="M529.26 171.8L531.56 168L533.86 171.8Z" fill="#4472c4"/><path d="M533.79 173.36L536.09 169.56L538.39 173.36Z" fill="#4472c4"/><path d="M538.33 174.75L540.63 170.95L542.93 174.75Z" fill="#4472c4"/><path d="M542.86 175.61L545.16 171.81L547.46 175.61Z" fill="#4472c4"/><path d="M547.4 176.83L549.7 173.03L552 176.83Z" fill="#4472c4"/><path d="M551.93 177.87L554.23 174.07L556.53 177.87Z" fill="#4472c4"/><path d="M556.47 178.56L558.77 174.76L561.07 178.56Z" fill="#4472c4"/><path d="M561 179.43L563.3 175.63L565.6 179.43Z" fill="#4472c4"/><path d="M565.54 179.95L567.84 176.15L570.14 179.95Z" fill="#4472c4"/><path d="M570.07 180.47L572.37 176.67L574.67 180.47Z" fill="#4472c4"/><path d="M574.61 180.82L576.91 177.02L579.21 180.82Z" fill="#4472c4"/><path d="M579.14 181.16L581.44 177.36L583.74 181.16Z" fill="#4472c4"/><path d="M583.68 181.69L585.98 177.89L588.28 181.69Z" fill="#4472c4"/><path d="M588.21 182.03L590.51 178.23L592.81 182.03Z" fill="#4472c4"/><path d="M592.75 182.29L595.05 178.49L597.35 182.29Z" fill="#4472c4"/><path d="M597.28 182.55L599.58 178.75L601.88 182.55Z" fill="#4472c4"/><path d="M601.82 182.73L604.12 178.93L606.42 182.73Z" fill="#4472c4"/><path d="M606.35 182.9L608.65 179.1L610.95 182.9Z" fill="#4472c4"/><path d="M610.89 182.9L613.19 179.1L615.49 182.9Z" fill="#4472c4"/><path d="M615.42 182.9L617.72 179.1L620.02 182.9Z" fill="#4472c4"/><path d="M619.96 182.9L622.26 179.1L624.56 182.9Z" fill="#4472c4"/><path d="M624.49 182.9L626.79 179.1L629.09 182.9Z" fill="#4472c4"/><path d="M629.03 182.9L631.33 179.1L633.63 182.9Z" fill="#4472c4"/><path d="M633.56 182.9L635.86 179.1L638.16 182.9Z" fill="#4472c4"/><path d="M638.1 182.9L640.4 179.1L642.7 182.9Z" fill="#4472c4"/><path d="M642.63 182.9L644.93 179.1L647.23 182.9Z" fill="#4472c4"/><path d="M647.17 182.9L649.47 179.1L651.77 182.9Z" fill="#4472c4"/><path d="M651.7 182.9L654 179.1L656.3 182.9Z" fill="#4472c4"/><path d="M656.24 182.9L658.54 179.1L660.84 182.9Z" fill="#4472c4"/><path d="M660.77 182.9L663.07 179.1L665.37 182.9Z" fill="#4472c4"/><path d="M665.31 182.9L667.61 179.1L669.91 182.9Z" fill="#4472c4"/><path d="M669.84 182.9L672.14 179.1L674.44 182.9Z" fill="#4472c4"/><path d="M674.38 182.9L676.68 179.1L678.98 182.9Z" fill="#4472c4"/><path d="M678.91 182.9L681.21 179.1L683.51 182.9Z" fill="#4472c4"/><polyline points="377.37,7.7 381.9,17.24 386.44,26.44 390.97,34.94 395.51,42.92 400.04,50.73 404.58,58.02 409.11,65.3 413.65,71.89 418.18,77.62 422.72,83.69 427.25,88.38 431.79,93.76 436.32,99.83 440.86,105.55 445.39,109.72 449.93,114.06 454.46,117.87 459,121.52 463.53,126.03 468.07,129.32 472.6,132.79 477.14,135.92 481.67,140.08 486.21,142.86 490.74,145.11 495.28,148.58 499.81,150.32 504.35,153.09 508.88,155 513.42,156.22 517.95,157.78 522.49,161.07 527.02,162.98 531.56,164.72 536.09,166.45 540.63,167.32 545.16,168.53 549.7,171.14 554.23,173.05 558.77,174.95 563.3,175.99 567.84,176.86 572.37,177.56 576.91,178.08 581.44,178.6 585.98,178.94 590.51,179.46 595.05,179.64 599.58,179.99 604.12,180.33 608.65,180.42 613.19,180.51 617.72,180.59 622.26,180.68 626.79,180.81 631.33,180.94 635.86,181.07 640.4,181.2 644.93,181.2 649.47,181.2 654,181.2 658.54,181.2 663.07,181.2 667.61,181.2 672.14,181.2 676.68,181.2 681.21,181.2" stroke="#ed7d31" stroke-width="1.15" fill="none" stroke-linejoin="round"/><circle cx="377.37" cy="7.7" r="1.75" fill="#ed7d31"/><circle cx="381.9" cy="17.24" r="1.75" fill="#ed7d31"/><circle cx="386.44" cy="26.44" r="1.75" fill="#ed7d31"/><circle cx="390.97" cy="34.94" r="1.75" fill="#ed7d31"/><circle cx="395.51" cy="42.92" r="1.75" fill="#ed7d31"/><circle cx="400.04" cy="50.73" r="1.75" fill="#ed7d31"/><circle cx="404.58" cy="58.02" r="1.75" fill="#ed7d31"/><circle cx="409.11" cy="65.3" r="1.75" fill="#ed7d31"/><circle cx="413.65" cy="71.89" r="1.75" fill="#ed7d31"/><circle cx="418.18" cy="77.62" r="1.75" fill="#ed7d31"/><circle cx="422.72" cy="83.69" r="1.75" fill="#ed7d31"/><circle cx="427.25" cy="88.38" r="1.75" fill="#ed7d31"/><circle cx="431.79" cy="93.76" r="1.75" fill="#ed7d31"/><circle cx="436.32" cy="99.83" r="1.75" fill="#ed7d31"/><circle cx="440.86" cy="105.55" r="1.75" fill="#ed7d31"/><circle cx="445.39" cy="109.72" r="1.75" fill="#ed7d31"/><circle cx="449.93" cy="114.06" r="1.75" fill="#ed7d31"/><circle cx="454.46" cy="117.87" r="1.75" fill="#ed7d31"/><circle cx="459" cy="121.52" r="1.75" fill="#ed7d31"/><circle cx="463.53" cy="126.03" r="1.75" fill="#ed7d31"/><circle cx="468.07" cy="129.32" r="1.75" fill="#ed7d31"/><circle cx="472.6" cy="132.79" r="1.75" fill="#ed7d31"/><circle cx="477.14" cy="135.92" r="1.75" fill="#ed7d31"/><circle cx="481.67" cy="140.08" r="1.75" fill="#ed7d31"/><circle cx="486.21" cy="142.86" r="1.75" fill="#ed7d31"/><circle cx="490.74" cy="145.11" r="1.75" fill="#ed7d31"/><circle cx="495.28" cy="148.58" r="1.75" fill="#ed7d31"/><circle cx="499.81" cy="150.32" r="1.75" fill="#ed7d31"/><circle cx="504.35" cy="153.09" r="1.75" fill="#ed7d31"/><circle cx="508.88" cy="155" r="1.75" fill="#ed7d31"/><circle cx="513.42" cy="156.22" r="1.75" fill="#ed7d31"/><circle cx="517.95" cy="157.78" r="1.75" fill="#ed7d31"/><circle cx="522.49" cy="161.07" r="1.75" fill="#ed7d31"/><circle cx="527.02" cy="162.98" r="1.75" fill="#ed7d31"/><circle cx="531.56" cy="164.72" r="1.75" fill="#ed7d31"/><circle cx="536.09" cy="166.45" r="1.75" fill="#ed7d31"/><circle cx="540.63" cy="167.32" r="1.75" fill="#ed7d31"/><circle cx="545.16" cy="168.53" r="1.75" fill="#ed7d31"/><circle cx="549.7" cy="171.14" r="1.75" fill="#ed7d31"/><circle cx="554.23" cy="173.05" r="1.75" fill="#ed7d31"/><circle cx="558.77" cy="174.95" r="1.75" fill="#ed7d31"/><circle cx="563.3" cy="175.99" r="1.75" fill="#ed7d31"/><circle cx="567.84" cy="176.86" r="1.75" fill="#ed7d31"/><circle cx="572.37" cy="177.56" r="1.75" fill="#ed7d31"/><circle cx="576.91" cy="178.08" r="1.75" fill="#ed7d31"/><circle cx="581.44" cy="178.6" r="1.75" fill="#ed7d31"/><circle cx="585.98" cy="178.94" r="1.75" fill="#ed7d31"/><circle cx="590.51" cy="179.46" r="1.75" fill="#ed7d31"/><circle cx="595.05" cy="179.64" r="1.75" fill="#ed7d31"/><circle cx="599.58" cy="179.99" r="1.75" fill="#ed7d31"/><circle cx="604.12" cy="180.33" r="1.75" fill="#ed7d31"/><circle cx="608.65" cy="180.42" r="1.75" fill="#ed7d31"/><circle cx="613.19" cy="180.51" r="1.75" fill="#ed7d31"/><circle cx="617.72" cy="180.59" r="1.75" fill="#ed7d31"/><circle cx="622.26" cy="180.68" r="1.75" fill="#ed7d31"/><circle cx="626.79" cy="180.81" r="1.75" fill="#ed7d31"/><circle cx="631.33" cy="180.94" r="1.75" fill="#ed7d31"/><circle cx="635.86" cy="181.07" r="1.75" fill="#ed7d31"/><circle cx="640.4" cy="181.2" r="1.75" fill="#ed7d31"/><circle cx="644.93" cy="181.2" r="1.75" fill="#ed7d31"/><circle cx="649.47" cy="181.2" r="1.75" fill="#ed7d31"/><circle cx="654" cy="181.2" r="1.75" fill="#ed7d31"/><circle cx="658.54" cy="181.2" r="1.75" fill="#ed7d31"/><circle cx="663.07" cy="181.2" r="1.75" fill="#ed7d31"/><circle cx="667.61" cy="181.2" r="1.75" fill="#ed7d31"/><circle cx="672.14" cy="181.2" r="1.75" fill="#ed7d31"/><circle cx="676.68" cy="181.2" r="1.75" fill="#ed7d31"/><circle cx="681.21" cy="181.2" r="1.75" fill="#ed7d31"/><polyline points="377.37,7.7 381.9,17.16 386.44,26.09 390.97,34.56 395.51,42.68 400.04,50.62 404.58,58.05 409.11,65.65 413.65,71.89 418.18,77.79 422.72,84.94 427.25,91.57 431.79,97.16 436.32,102.57 440.86,107.64 445.39,112.46 449.93,116.94 454.46,121.24 459,125.71 463.53,129.5 468.07,133.33 472.6,136.47 477.14,139.79 481.67,142.93 486.21,146.07 490.74,149.03 495.28,151.83 499.81,154.79 504.35,157.07 508.88,159.51 513.42,161.49 517.95,163.47 522.49,165.45 527.02,166.73 531.56,168.36 536.09,170.03 540.63,171.52 545.16,172.49 549.7,173.81 554.23,174.95 558.77,175.75 563.3,176.72 567.84,177.35 572.37,177.97 576.91,178.42 581.44,178.84 585.98,179.43 590.51,179.85 595.05,180.18 599.58,180.51 604.12,180.85 608.65,181.2 613.19,181.2 617.72,181.2 622.26,181.2 626.79,181.2 631.33,181.2 635.86,181.2 640.4,181.2 644.93,181.2 649.47,181.2 654,181.2 658.54,181.2 663.07,181.2 667.61,181.2 672.14,181.2 676.68,181.2 681.21,181.2" stroke="#e8b91e" stroke-width="1.3" fill="none" stroke-linejoin="round"/><path d="M375.87 7.7H378.87M377.37 6.2V9.2" stroke="#e8b91e" stroke-width="1.2" fill="none"/><path d="M380.4 17.16H383.4M381.9 15.66V18.66" stroke="#e8b91e" stroke-width="1.2" fill="none"/><path d="M384.94 26.09H387.94M386.44 24.59V27.59" stroke="#e8b91e" stroke-width="1.2" fill="none"/><path d="M389.47 34.56H392.47M390.97 33.06V36.06" stroke="#e8b91e" stroke-width="1.2" fill="none"/><path d="M394.01 42.68H397.01M395.51 41.18V44.18" stroke="#e8b91e" stroke-width="1.2" fill="none"/><path d="M398.54 50.62H401.54M400.04 49.12V52.12" stroke="#e8b91e" stroke-width="1.2" fill="none"/><path d="M403.08 58.05H406.08M404.58 56.55V59.55" stroke="#e8b91e" stroke-width="1.2" fill="none"/><path d="M407.61 65.65H410.61M409.11 64.15V67.15" stroke="#e8b91e" stroke-width="1.2" fill="none"/><path d="M412.15 71.89H415.15M413.65 70.39V73.39" stroke="#e8b91e" stroke-width="1.2" fill="none"/><path d="M416.68 77.79H419.68M418.18 76.29V79.29" stroke="#e8b91e" stroke-width="1.2" fill="none"/><path d="M421.22 84.94H424.22M422.72 83.44V86.44" stroke="#e8b91e" stroke-width="1.2" fill="none"/><path d="M425.75 91.57H428.75M427.25 90.07V93.07" stroke="#e8b91e" stroke-width="1.2" fill="none"/><path d="M430.29 97.16H433.29M431.79 95.66V98.66" stroke="#e8b91e" stroke-width="1.2" fill="none"/><path d="M434.82 102.57H437.82M436.32 101.07V104.07" stroke="#e8b91e" stroke-width="1.2" fill="none"/><path d="M439.36 107.64H442.36M440.86 106.14V109.14" stroke="#e8b91e" stroke-width="1.2" fill="none"/><path d="M443.89 112.46H446.89M445.39 110.96V113.96" stroke="#e8b91e" stroke-width="1.2" fill="none"/><path d="M448.43 116.94H451.43M449.93 115.44V118.44" stroke="#e8b91e" stroke-width="1.2" fill="none"/><path d="M452.96 121.24H455.96M454.46 119.74V122.74" stroke="#e8b91e" stroke-width="1.2" fill="none"/><path d="M457.5 125.71H460.5M459 124.21V127.21" stroke="#e8b91e" stroke-width="1.2" fill="none"/><path d="M462.03 129.5H465.03M463.53 128V131" stroke="#e8b91e" stroke-width="1.2" fill="none"/><path d="M466.57 133.33H469.57M468.07 131.83V134.83" stroke="#e8b91e" stroke-width="1.2" fill="none"/><path d="M471.1 136.47H474.1M472.6 134.97V137.97" stroke="#e8b91e" stroke-width="1.2" fill="none"/><path d="M475.64 139.79H478.64M477.14 138.29V141.29" stroke="#e8b91e" stroke-width="1.2" fill="none"/><path d="M480.17 142.93H483.17M481.67 141.43V144.43" stroke="#e8b91e" stroke-width="1.2" fill="none"/><path d="M484.71 146.07H487.71M486.21 144.57V147.57" stroke="#e8b91e" stroke-width="1.2" fill="none"/><path d="M489.24 149.03H492.24M490.74 147.53V150.53" stroke="#e8b91e" stroke-width="1.2" fill="none"/><path d="M493.78 151.83H496.78M495.28 150.33V153.33" stroke="#e8b91e" stroke-width="1.2" fill="none"/><path d="M498.31 154.79H501.31M499.81 153.29V156.29" stroke="#e8b91e" stroke-width="1.2" fill="none"/><path d="M502.85 157.07H505.85M504.35 155.57V158.57" stroke="#e8b91e" stroke-width="1.2" fill="none"/><path d="M507.38 159.51H510.38M508.88 158.01V161.01" stroke="#e8b91e" stroke-width="1.2" fill="none"/><path d="M511.92 161.49H514.92M513.42 159.99V162.99" stroke="#e8b91e" stroke-width="1.2" fill="none"/><path d="M516.45 163.47H519.45M517.95 161.97V164.97" stroke="#e8b91e" stroke-width="1.2" fill="none"/><path d="M520.99 165.45H523.99M522.49 163.95V166.95" stroke="#e8b91e" stroke-width="1.2" fill="none"/><path d="M525.52 166.73H528.52M527.02 165.23V168.23" stroke="#e8b91e" stroke-width="1.2" fill="none"/><path d="M530.06 168.36H533.06M531.56 166.86V169.86" stroke="#e8b91e" stroke-width="1.2" fill="none"/><path d="M534.59 170.03H537.59M536.09 168.53V171.53" stroke="#e8b91e" stroke-width="1.2" fill="none"/><path d="M539.13 171.52H542.13M540.63 170.02V173.02" stroke="#e8b91e" stroke-width="1.2" fill="none"/><path d="M543.66 172.49H546.66M545.16 170.99V173.99" stroke="#e8b91e" stroke-width="1.2" fill="none"/><path d="M548.2 173.81H551.2M549.7 172.31V175.31" stroke="#e8b91e" stroke-width="1.2" fill="none"/><path d="M552.73 174.95H555.73M554.23 173.45V176.45" stroke="#e8b91e" stroke-width="1.2" fill="none"/><path d="M557.27 175.75H560.27M558.77 174.25V177.25" stroke="#e8b91e" stroke-width="1.2" fill="none"/><path d="M561.8 176.72H564.8M563.3 175.22V178.22" stroke="#e8b91e" stroke-width="1.2" fill="none"/><path d="M566.34 177.35H569.34M567.84 175.85V178.85" stroke="#e8b91e" stroke-width="1.2" fill="none"/><path d="M570.87 177.97H573.87M572.37 176.47V179.47" stroke="#e8b91e" stroke-width="1.2" fill="none"/><path d="M575.41 178.42H578.41M576.91 176.92V179.92" stroke="#e8b91e" stroke-width="1.2" fill="none"/><path d="M579.94 178.84H582.94M581.44 177.34V180.34" stroke="#e8b91e" stroke-width="1.2" fill="none"/><path d="M584.48 179.43H587.48M585.98 177.93V180.93" stroke="#e8b91e" stroke-width="1.2" fill="none"/><path d="M589.01 179.85H592.01M590.51 178.35V181.35" stroke="#e8b91e" stroke-width="1.2" fill="none"/><path d="M593.55 180.18H596.55M595.05 178.68V181.68" stroke="#e8b91e" stroke-width="1.2" fill="none"/><path d="M598.08 180.51H601.08M599.58 179.01V182.01" stroke="#e8b91e" stroke-width="1.2" fill="none"/><path d="M602.62 180.85H605.62M604.12 179.35V182.35" stroke="#e8b91e" stroke-width="1.2" fill="none"/><path d="M607.15 181.2H610.15M608.65 179.7V182.7" stroke="#e8b91e" stroke-width="1.2" fill="none"/><path d="M611.69 181.2H614.69M613.19 179.7V182.7" stroke="#e8b91e" stroke-width="1.2" fill="none"/><path d="M616.22 181.2H619.22M617.72 179.7V182.7" stroke="#e8b91e" stroke-width="1.2" fill="none"/><path d="M620.76 181.2H623.76M622.26 179.7V182.7" stroke="#e8b91e" stroke-width="1.2" fill="none"/><path d="M625.29 181.2H628.29M626.79 179.7V182.7" stroke="#e8b91e" stroke-width="1.2" fill="none"/><path d="M629.83 181.2H632.83M631.33 179.7V182.7" stroke="#e8b91e" stroke-width="1.2" fill="none"/><path d="M634.36 181.2H637.36M635.86 179.7V182.7" stroke="#e8b91e" stroke-width="1.2" fill="none"/><path d="M638.9 181.2H641.9M640.4 179.7V182.7" stroke="#e8b91e" stroke-width="1.2" fill="none"/><path d="M643.43 181.2H646.43M644.93 179.7V182.7" stroke="#e8b91e" stroke-width="1.2" fill="none"/><path d="M647.97 181.2H650.97M649.47 179.7V182.7" stroke="#e8b91e" stroke-width="1.2" fill="none"/><path d="M652.5 181.2H655.5M654 179.7V182.7" stroke="#e8b91e" stroke-width="1.2" fill="none"/><path d="M657.04 181.2H660.04M658.54 179.7V182.7" stroke="#e8b91e" stroke-width="1.2" fill="none"/><path d="M661.57 181.2H664.57M663.07 179.7V182.7" stroke="#e8b91e" stroke-width="1.2" fill="none"/><path d="M666.11 181.2H669.11M667.61 179.7V182.7" stroke="#e8b91e" stroke-width="1.2" fill="none"/><path d="M670.64 181.2H673.64M672.14 179.7V182.7" stroke="#e8b91e" stroke-width="1.2" fill="none"/><path d="M675.18 181.2H678.18M676.68 179.7V182.7" stroke="#e8b91e" stroke-width="1.2" fill="none"/><path d="M679.71 181.2H682.71M681.21 179.7V182.7" stroke="#e8b91e" stroke-width="1.2" fill="none"/><polyline points="377.37,7.7 381.9,13.6 386.44,14.81 390.97,23.14 395.51,26.61 400.04,30.25 404.58,33.72 409.11,37.89 413.65,45.18 418.18,53.5 422.72,56.8 427.25,62.18 431.79,67.04 436.32,68.08 440.86,70.51 445.39,73.11 449.93,77.79 454.46,83.69 459,88.03 463.53,92.54 468.07,95.14 472.6,98.96 477.14,101.39 481.67,106.42 486.21,108.33 490.74,112.84 495.28,118.05 499.81,122.73 504.35,127.41 508.88,130.36 513.42,134.18 517.95,134.7 522.49,135.92 527.02,137.48 531.56,141.64 536.09,145.46 540.63,149.62 545.16,150.14 549.7,153.44 554.23,156.56 558.77,158.47 563.3,159.17 567.84,161.42 572.37,162.98 576.91,164.72 581.44,166.28 585.98,168.19 590.51,169.58 595.05,170.96 599.58,171.83 604.12,172.87 608.65,174.09 613.19,174.95 617.72,175.82 622.26,176.52 626.79,177.21 631.33,177.56 635.86,177.9 640.4,178.25 644.93,178.6 649.47,179.2 654,179.81 658.54,180.51 663.07,181.2 667.61,181.2 672.14,181.2 676.68,181.2 681.21,181.2" stroke="#7bd04a" stroke-width="1.2" fill="none" stroke-linejoin="round"/><path d="M376.07 6.4L378.67 9M378.67 6.4L376.07 9" stroke="#74ca44" stroke-width="0.7" fill="none"/><path d="M380.6 12.3L383.2 14.9M383.2 12.3L380.6 14.9" stroke="#74ca44" stroke-width="0.7" fill="none"/><path d="M385.14 13.51L387.74 16.11M387.74 13.51L385.14 16.11" stroke="#74ca44" stroke-width="0.7" fill="none"/><path d="M389.67 21.84L392.27 24.44M392.27 21.84L389.67 24.44" stroke="#74ca44" stroke-width="0.7" fill="none"/><path d="M394.21 25.31L396.81 27.91M396.81 25.31L394.21 27.91" stroke="#74ca44" stroke-width="0.7" fill="none"/><path d="M398.74 28.95L401.34 31.55M401.34 28.95L398.74 31.55" stroke="#74ca44" stroke-width="0.7" fill="none"/><path d="M403.28 32.42L405.88 35.02M405.88 32.42L403.28 35.02" stroke="#74ca44" stroke-width="0.7" fill="none"/><path d="M407.81 36.59L410.41 39.19M410.41 36.59L407.81 39.19" stroke="#74ca44" stroke-width="0.7" fill="none"/><path d="M412.35 43.88L414.95 46.48M414.95 43.88L412.35 46.48" stroke="#74ca44" stroke-width="0.7" fill="none"/><path d="M416.88 52.2L419.48 54.8M419.48 52.2L416.88 54.8" stroke="#74ca44" stroke-width="0.7" fill="none"/><path d="M421.42 55.5L424.02 58.1M424.02 55.5L421.42 58.1" stroke="#74ca44" stroke-width="0.7" fill="none"/><path d="M425.95 60.88L428.55 63.48M428.55 60.88L425.95 63.48" stroke="#74ca44" stroke-width="0.7" fill="none"/><path d="M430.49 65.74L433.09 68.34M433.09 65.74L430.49 68.34" stroke="#74ca44" stroke-width="0.7" fill="none"/><path d="M435.02 66.78L437.62 69.38M437.62 66.78L435.02 69.38" stroke="#74ca44" stroke-width="0.7" fill="none"/><path d="M439.56 69.21L442.16 71.81M442.16 69.21L439.56 71.81" stroke="#74ca44" stroke-width="0.7" fill="none"/><path d="M444.09 71.81L446.69 74.41M446.69 71.81L444.09 74.41" stroke="#74ca44" stroke-width="0.7" fill="none"/><path d="M448.63 76.49L451.23 79.09M451.23 76.49L448.63 79.09" stroke="#74ca44" stroke-width="0.7" fill="none"/><path d="M453.16 82.39L455.76 84.99M455.76 82.39L453.16 84.99" stroke="#74ca44" stroke-width="0.7" fill="none"/><path d="M457.7 86.73L460.3 89.33M460.3 86.73L457.7 89.33" stroke="#74ca44" stroke-width="0.7" fill="none"/><path d="M462.23 91.24L464.83 93.84M464.83 91.24L462.23 93.84" stroke="#74ca44" stroke-width="0.7" fill="none"/><path d="M466.77 93.84L469.37 96.44M469.37 93.84L466.77 96.44" stroke="#74ca44" stroke-width="0.7" fill="none"/><path d="M471.3 97.66L473.9 100.26M473.9 97.66L471.3 100.26" stroke="#74ca44" stroke-width="0.7" fill="none"/><path d="M475.84 100.09L478.44 102.69M478.44 100.09L475.84 102.69" stroke="#74ca44" stroke-width="0.7" fill="none"/><path d="M480.37 105.12L482.97 107.72M482.97 105.12L480.37 107.72" stroke="#74ca44" stroke-width="0.7" fill="none"/><path d="M484.91 107.03L487.51 109.63M487.51 107.03L484.91 109.63" stroke="#74ca44" stroke-width="0.7" fill="none"/><path d="M489.44 111.54L492.04 114.14M492.04 111.54L489.44 114.14" stroke="#74ca44" stroke-width="0.7" fill="none"/><path d="M493.98 116.75L496.58 119.35M496.58 116.75L493.98 119.35" stroke="#74ca44" stroke-width="0.7" fill="none"/><path d="M498.51 121.43L501.11 124.03M501.11 121.43L498.51 124.03" stroke="#74ca44" stroke-width="0.7" fill="none"/><path d="M503.05 126.11L505.65 128.72M505.65 126.11L503.05 128.72" stroke="#74ca44" stroke-width="0.7" fill="none"/><path d="M507.58 129.06L510.18 131.66M510.18 129.06L507.58 131.66" stroke="#74ca44" stroke-width="0.7" fill="none"/><path d="M512.12 132.88L514.72 135.48M514.72 132.88L512.12 135.48" stroke="#74ca44" stroke-width="0.7" fill="none"/><path d="M516.65 133.4L519.25 136M519.25 133.4L516.65 136" stroke="#74ca44" stroke-width="0.7" fill="none"/><path d="M521.19 134.62L523.79 137.22M523.79 134.62L521.19 137.22" stroke="#74ca44" stroke-width="0.7" fill="none"/><path d="M525.72 136.18L528.32 138.78M528.32 136.18L525.72 138.78" stroke="#74ca44" stroke-width="0.7" fill="none"/><path d="M530.26 140.34L532.86 142.94M532.86 140.34L530.26 142.94" stroke="#74ca44" stroke-width="0.7" fill="none"/><path d="M534.79 144.16L537.39 146.76M537.39 144.16L534.79 146.76" stroke="#74ca44" stroke-width="0.7" fill="none"/><path d="M539.33 148.32L541.93 150.92M541.93 148.32L539.33 150.92" stroke="#74ca44" stroke-width="0.7" fill="none"/><path d="M543.86 148.84L546.46 151.44M546.46 148.84L543.86 151.44" stroke="#74ca44" stroke-width="0.7" fill="none"/><path d="M548.4 152.14L551 154.74M551 152.14L548.4 154.74" stroke="#74ca44" stroke-width="0.7" fill="none"/><path d="M552.93 155.26L555.53 157.86M555.53 155.26L552.93 157.86" stroke="#74ca44" stroke-width="0.7" fill="none"/><path d="M557.47 157.17L560.07 159.77M560.07 157.17L557.47 159.77" stroke="#74ca44" stroke-width="0.7" fill="none"/><path d="M562 157.87L564.6 160.47M564.6 157.87L562 160.47" stroke="#74ca44" stroke-width="0.7" fill="none"/><path d="M566.54 160.12L569.14 162.72M569.14 160.12L566.54 162.72" stroke="#74ca44" stroke-width="0.7" fill="none"/><path d="M571.07 161.68L573.67 164.28M573.67 161.68L571.07 164.28" stroke="#74ca44" stroke-width="0.7" fill="none"/><path d="M575.61 163.42L578.21 166.02M578.21 163.42L575.61 166.02" stroke="#74ca44" stroke-width="0.7" fill="none"/><path d="M580.14 164.98L582.74 167.58M582.74 164.98L580.14 167.58" stroke="#74ca44" stroke-width="0.7" fill="none"/><path d="M584.68 166.89L587.28 169.49M587.28 166.89L584.68 169.49" stroke="#74ca44" stroke-width="0.7" fill="none"/><path d="M589.21 168.28L591.81 170.88M591.81 168.28L589.21 170.88" stroke="#74ca44" stroke-width="0.7" fill="none"/><path d="M593.75 169.66L596.35 172.26M596.35 169.66L593.75 172.26" stroke="#74ca44" stroke-width="0.7" fill="none"/><path d="M598.28 170.53L600.88 173.13M600.88 170.53L598.28 173.13" stroke="#74ca44" stroke-width="0.7" fill="none"/><path d="M602.82 171.57L605.42 174.17M605.42 171.57L602.82 174.17" stroke="#74ca44" stroke-width="0.7" fill="none"/><path d="M607.35 172.79L609.95 175.39M609.95 172.79L607.35 175.39" stroke="#74ca44" stroke-width="0.7" fill="none"/><path d="M611.89 173.65L614.49 176.25M614.49 173.65L611.89 176.25" stroke="#74ca44" stroke-width="0.7" fill="none"/><path d="M616.42 174.52L619.02 177.12M619.02 174.52L616.42 177.12" stroke="#74ca44" stroke-width="0.7" fill="none"/><path d="M620.96 175.22L623.56 177.82M623.56 175.22L620.96 177.82" stroke="#74ca44" stroke-width="0.7" fill="none"/><path d="M625.49 175.91L628.09 178.51M628.09 175.91L625.49 178.51" stroke="#74ca44" stroke-width="0.7" fill="none"/><path d="M630.03 176.26L632.63 178.86M632.63 176.26L630.03 178.86" stroke="#74ca44" stroke-width="0.7" fill="none"/><path d="M634.56 176.6L637.16 179.2M637.16 176.6L634.56 179.2" stroke="#74ca44" stroke-width="0.7" fill="none"/><path d="M639.1 176.95L641.7 179.55M641.7 176.95L639.1 179.55" stroke="#74ca44" stroke-width="0.7" fill="none"/><path d="M643.63 177.3L646.23 179.9M646.23 177.3L643.63 179.9" stroke="#74ca44" stroke-width="0.7" fill="none"/><path d="M648.17 177.9L650.77 180.5M650.77 177.9L648.17 180.5" stroke="#74ca44" stroke-width="0.7" fill="none"/><path d="M652.7 178.51L655.3 181.11M655.3 178.51L652.7 181.11" stroke="#74ca44" stroke-width="0.7" fill="none"/><path d="M657.24 179.21L659.84 181.81M659.84 179.21L657.24 181.81" stroke="#74ca44" stroke-width="0.7" fill="none"/><path d="M661.77 179.9L664.37 182.5M664.37 179.9L661.77 182.5" stroke="#74ca44" stroke-width="0.7" fill="none"/><path d="M666.31 179.9L668.91 182.5M668.91 179.9L666.31 182.5" stroke="#74ca44" stroke-width="0.7" fill="none"/><path d="M670.84 179.9L673.44 182.5M673.44 179.9L670.84 182.5" stroke="#74ca44" stroke-width="0.7" fill="none"/><path d="M675.38 179.9L677.98 182.5M677.98 179.9L675.38 182.5" stroke="#74ca44" stroke-width="0.7" fill="none"/><path d="M679.91 179.9L682.51 182.5M682.51 179.9L679.91 182.5" stroke="#74ca44" stroke-width="0.7" fill="none"/><path d="M624.1 13H638.5" stroke="#8fa9dc" stroke-width="1.4"/><path d="M629 14.7L631.3 10.9L633.6 14.7Z" fill="#4472c4"/><text x="640.2" y="16.4" class="t10">Degree</text><path d="M624.1 28.5H638.5" stroke="#ed7d31" stroke-width="1.4"/><circle cx="631.3" cy="28.5" r="1.75" fill="#ed7d31"/><text x="640.2" y="31.9" class="t10">Indegree</text><path d="M624.1 44.3H638.5" stroke="#e8b91e" stroke-width="1.4"/><path d="M629.8 44.3H632.8M631.3 42.8V45.8" stroke="#e8b91e" stroke-width="1.2" fill="none"/><text x="640.2" y="47.7" class="t10">Outdegree</text><path d="M624.1 59.6H638.5" stroke="#8fdc6a" stroke-width="1.4"/><path d="M630 58.3L632.6 60.9M632.6 58.3L630 60.9" stroke="#74ca44" stroke-width="0.7" fill="none"/><text x="640.2" y="63" class="t10">Rand</text></g><g><path d="M28.4 221.7V394.7" stroke="#6a6a6a" stroke-width="1.0" fill="none"/><path d="M27.9 394.7H336.78" stroke="#383838" stroke-width="1.4" fill="none"/><path d="M25.8 394.7H28.4M25.8 360.1H28.4M25.8 325.5H28.4M25.8 290.9H28.4M25.8 256.3H28.4M25.8 221.7H28.4M28.4 394.7V397.3M51.08 394.7V397.3M73.75 394.7V397.3M96.43 394.7V397.3M119.1 394.7V397.3M141.78 394.7V397.3M164.45 394.7V397.3M187.12 394.7V397.3M209.8 394.7V397.3M232.48 394.7V397.3M255.15 394.7V397.3M277.82 394.7V397.3M300.5 394.7V397.3M323.18 394.7V397.3" stroke="#1e1e1e" stroke-width="0.9" fill="none"/><text x="21.3" y="397.5" text-anchor="end" class="t9">0</text><text x="21.3" y="362.9" text-anchor="end" class="t9">0.2</text><text x="21.3" y="328.3" text-anchor="end" class="t9">0.4</text><text x="21.3" y="293.7" text-anchor="end" class="t9">0.6</text><text x="21.3" y="259.1" text-anchor="end" class="t9">0.8</text><text x="21.3" y="224.5" text-anchor="end" class="t9">1</text><text x="30.67" y="407.8" text-anchor="middle" class="t9">1</text><text x="53.34" y="407.8" text-anchor="middle" class="t9">6</text><text x="76.02" y="407.8" text-anchor="middle" class="t9">11</text><text x="98.69" y="407.8" text-anchor="middle" class="t9">16</text><text x="121.37" y="407.8" text-anchor="middle" class="t9">21</text><text x="144.04" y="407.8" text-anchor="middle" class="t9">26</text><text x="166.72" y="407.8" text-anchor="middle" class="t9">31</text><text x="189.39" y="407.8" text-anchor="middle" class="t9">36</text><text x="212.07" y="407.8" text-anchor="middle" class="t9">41</text><text x="234.74" y="407.8" text-anchor="middle" class="t9">46</text><text x="257.42" y="407.8" text-anchor="middle" class="t9">51</text><text x="280.09" y="407.8" text-anchor="middle" class="t9">56</text><text x="302.77" y="407.8" text-anchor="middle" class="t9">61</text><text x="325.44" y="407.8" text-anchor="middle" class="t9">66</text><text x="126.7" y="420.7" class="tx">Number of Attacked Nodes</text><text transform="translate(9.4 308.7) rotate(-90)" text-anchor="middle" class="tt">Connectivity Robustness</text><text x="47.2" y="228" class="t19">(c)</text><polyline points="30.67,221.7 35.2,239.35 39.74,251.28 44.27,262.18 48.81,272.74 53.34,281.56 57.88,290.03 62.41,297.65 66.95,304.74 71.48,311.31 76.02,317.54 80.55,323.25 85.09,328.96 89.62,333.98 94.16,339.17 98.69,342.97 103.23,347.3 107.76,351.1 112.3,355.43 116.83,358.72 121.37,362.18 125.9,365.46 130.44,368.75 134.97,372.21 139.51,374.81 144.04,376.36 148.58,378.26 153.11,380.17 157.65,381.03 162.18,382.07 166.72,383.63 171.25,384.84 175.79,385.88 180.32,386.74 184.86,387.78 189.39,388.47 193.93,389.16 198.46,389.86 203,390.55 207.53,391.24 212.07,391.67 216.6,392.1 221.14,392.54 225.67,392.97 230.21,393.23 234.74,393.49 239.28,393.75 243.81,394.01 248.35,394.18 252.88,394.35 257.42,394.53 261.95,394.7 266.49,394.7 271.02,394.7 275.56,394.7 280.09,394.7 284.63,394.7 289.16,394.7 293.7,394.7 298.23,394.7 302.77,394.7 307.3,394.7 311.84,394.7 316.37,394.7 320.91,394.7 325.44,394.7 329.98,394.7 334.51,394.7" stroke="#5a84cc" stroke-width="1.0" fill="none" stroke-linejoin="round"/><path d="M28.37 223.4L30.67 219.6L32.97 223.4Z" fill="#4472c4"/><path d="M32.9 241.05L35.2 237.25L37.5 241.05Z" fill="#4472c4"/><path d="M37.44 252.98L39.74 249.18L42.04 252.98Z" fill="#4472c4"/><path d="M41.97 263.88L44.27 260.08L46.57 263.88Z" fill="#4472c4"/><path d="M46.51 274.44L48.81 270.63L51.11 274.44Z" fill="#4472c4"/><path d="M51.04 283.26L53.34 279.46L55.64 283.26Z" fill="#4472c4"/><path d="M55.58 291.73L57.88 287.93L60.18 291.73Z" fill="#4472c4"/><path d="M60.11 299.35L62.41 295.55L64.71 299.35Z" fill="#4472c4"/><path d="M64.65 306.44L66.95 302.64L69.25 306.44Z" fill="#4472c4"/><path d="M69.18 313.01L71.48 309.21L73.78 313.01Z" fill="#4472c4"/><path d="M73.72 319.24L76.02 315.44L78.32 319.24Z" fill="#4472c4"/><path d="M78.25 324.95L80.55 321.15L82.85 324.95Z" fill="#4472c4"/><path d="M82.79 330.66L85.09 326.86L87.39 330.66Z" fill="#4472c4"/><path d="M87.32 335.68L89.62 331.88L91.92 335.68Z" fill="#4472c4"/><path d="M91.86 340.87L94.16 337.07L96.46 340.87Z" fill="#4472c4"/><path d="M96.39 344.67L98.69 340.87L100.99 344.67Z" fill="#4472c4"/><path d="M100.93 349L103.23 345.2L105.53 349Z" fill="#4472c4"/><path d="M105.46 352.8L107.76 349L110.06 352.8Z" fill="#4472c4"/><path d="M110 357.13L112.3 353.33L114.6 357.13Z" fill="#4472c4"/><path d="M114.53 360.42L116.83 356.62L119.13 360.42Z" fill="#4472c4"/><path d="M119.07 363.88L121.37 360.08L123.67 363.88Z" fill="#4472c4"/><path d="M123.6 367.16L125.9 363.36L128.2 367.16Z" fill="#4472c4"/><path d="M128.14 370.45L130.44 366.65L132.74 370.45Z" fill="#4472c4"/><path d="M132.67 373.91L134.97 370.11L137.27 373.91Z" fill="#4472c4"/><path d="M137.21 376.5L139.51 372.7L141.81 376.5Z" fill="#4472c4"/><path d="M141.74 378.06L144.04 374.26L146.34 378.06Z" fill="#4472c4"/><path d="M146.28 379.96L148.58 376.16L150.88 379.96Z" fill="#4472c4"/><path d="M150.81 381.87L153.11 378.07L155.41 381.87Z" fill="#4472c4"/><path d="M155.35 382.73L157.65 378.93L159.95 382.73Z" fill="#4472c4"/><path d="M159.88 383.77L162.18 379.97L164.48 383.77Z" fill="#4472c4"/><path d="M164.42 385.33L166.72 381.53L169.02 385.33Z" fill="#4472c4"/><path d="M168.95 386.54L171.25 382.74L173.55 386.54Z" fill="#4472c4"/><path d="M173.49 387.58L175.79 383.78L178.09 387.58Z" fill="#4472c4"/><path d="M178.02 388.44L180.32 384.64L182.62 388.44Z" fill="#4472c4"/><path d="M182.56 389.48L184.86 385.68L187.16 389.48Z" fill="#4472c4"/><path d="M187.09 390.17L189.39 386.37L191.69 390.17Z" fill="#4472c4"/><path d="M191.63 390.86L193.93 387.06L196.23 390.86Z" fill="#4472c4"/><path d="M196.16 391.56L198.46 387.76L200.76 391.56Z" fill="#4472c4"/><path d="M200.7 392.25L203 388.45L205.3 392.25Z" fill="#4472c4"/><path d="M205.23 392.94L207.53 389.14L209.83 392.94Z" fill="#4472c4"/><path d="M209.77 393.37L212.07 389.57L214.37 393.37Z" fill="#4472c4"/><path d="M214.3 393.8L216.6 390L218.9 393.8Z" fill="#4472c4"/><path d="M218.84 394.24L221.14 390.44L223.44 394.24Z" fill="#4472c4"/><path d="M223.37 394.67L225.67 390.87L227.97 394.67Z" fill="#4472c4"/><path d="M227.91 394.93L230.21 391.13L232.51 394.93Z" fill="#4472c4"/><path d="M232.44 395.19L234.74 391.39L237.04 395.19Z" fill="#4472c4"/><path d="M236.98 395.45L239.28 391.65L241.58 395.45Z" fill="#4472c4"/><path d="M241.51 395.71L243.81 391.91L246.11 395.71Z" fill="#4472c4"/><path d="M246.05 395.88L248.35 392.08L250.65 395.88Z" fill="#4472c4"/><path d="M250.58 396.05L252.88 392.25L255.18 396.05Z" fill="#4472c4"/><path d="M255.12 396.23L257.42 392.43L259.72 396.23Z" fill="#4472c4"/><path d="M259.65 396.4L261.95 392.6L264.25 396.4Z" fill="#4472c4"/><path d="M264.19 396.4L266.49 392.6L268.79 396.4Z" fill="#4472c4"/><path d="M268.72 396.4L271.02 392.6L273.32 396.4Z" fill="#4472c4"/><path d="M273.26 396.4L275.56 392.6L277.86 396.4Z" fill="#4472c4"/><path d="M277.79 396.4L280.09 392.6L282.39 396.4Z" fill="#4472c4"/><path d="M282.33 396.4L284.63 392.6L286.93 396.4Z" fill="#4472c4"/><path d="M286.86 396.4L289.16 392.6L291.46 396.4Z" fill="#4472c4"/><path d="M291.4 396.4L293.7 392.6L296 396.4Z" fill="#4472c4"/><path d="M295.93 396.4L298.23 392.6L300.53 396.4Z" fill="#4472c4"/><path d="M300.47 396.4L302.77 392.6L305.07 396.4Z" fill="#4472c4"/><path d="M305 396.4L307.3 392.6L309.6 396.4Z" fill="#4472c4"/><path d="M309.54 396.4L311.84 392.6L314.14 396.4Z" fill="#4472c4"/><path d="M314.07 396.4L316.37 392.6L318.67 396.4Z" fill="#4472c4"/><path d="M318.61 396.4L320.91 392.6L323.21 396.4Z" fill="#4472c4"/><path d="M323.14 396.4L325.44 392.6L327.74 396.4Z" fill="#4472c4"/><path d="M327.68 396.4L329.98 392.6L332.28 396.4Z" fill="#4472c4"/><path d="M332.21 396.4L334.51 392.6L336.81 396.4Z" fill="#4472c4"/><polyline points="30.67,221.7 35.2,231.56 39.74,243.5 44.27,259.24 48.81,266.33 53.34,276.37 57.88,282.42 62.41,286.75 66.95,289.86 71.48,294.71 76.02,304.57 80.55,313.22 85.09,317.89 89.62,320.83 94.16,325.85 98.69,331.56 103.23,336.57 107.76,339.69 112.3,342.28 116.83,344.88 121.37,347.3 125.9,351.97 130.44,355.77 134.97,358.89 139.51,361.66 144.04,364.6 148.58,366.5 153.11,367.88 157.65,369.1 162.18,371.52 166.72,376.36 171.25,378.61 175.79,379.82 180.32,380.51 184.86,382.94 189.39,385.53 193.93,385.88 198.46,386.22 203,387.43 207.53,388.3 212.07,388.3 216.6,388.99 221.14,389.68 225.67,390.38 230.21,390.89 234.74,391.41 239.28,392.28 243.81,392.97 248.35,393.32 252.88,393.66 257.42,393.73 261.95,393.8 266.49,393.87 271.02,393.94 275.56,394.01 280.09,394.15 284.63,394.28 289.16,394.42 293.7,394.56 298.23,394.7 302.77,394.7 307.3,394.7 311.84,394.7 316.37,394.7 320.91,394.7 325.44,394.7 329.98,394.7 334.51,394.7" stroke="#ed7d31" stroke-width="1.15" fill="none" stroke-linejoin="round"/><circle cx="30.67" cy="221.7" r="1.75" fill="#ed7d31"/><circle cx="35.2" cy="231.56" r="1.75" fill="#ed7d31"/><circle cx="39.74" cy="243.5" r="1.75" fill="#ed7d31"/><circle cx="44.27" cy="259.24" r="1.75" fill="#ed7d31"/><circle cx="48.81" cy="266.33" r="1.75" fill="#ed7d31"/><circle cx="53.34" cy="276.37" r="1.75" fill="#ed7d31"/><circle cx="57.88" cy="282.42" r="1.75" fill="#ed7d31"/><circle cx="62.41" cy="286.75" r="1.75" fill="#ed7d31"/><circle cx="66.95" cy="289.86" r="1.75" fill="#ed7d31"/><circle cx="71.48" cy="294.71" r="1.75" fill="#ed7d31"/><circle cx="76.02" cy="304.57" r="1.75" fill="#ed7d31"/><circle cx="80.55" cy="313.22" r="1.75" fill="#ed7d31"/><circle cx="85.09" cy="317.89" r="1.75" fill="#ed7d31"/><circle cx="89.62" cy="320.83" r="1.75" fill="#ed7d31"/><circle cx="94.16" cy="325.85" r="1.75" fill="#ed7d31"/><circle cx="98.69" cy="331.56" r="1.75" fill="#ed7d31"/><circle cx="103.23" cy="336.57" r="1.75" fill="#ed7d31"/><circle cx="107.76" cy="339.69" r="1.75" fill="#ed7d31"/><circle cx="112.3" cy="342.28" r="1.75" fill="#ed7d31"/><circle cx="116.83" cy="344.88" r="1.75" fill="#ed7d31"/><circle cx="121.37" cy="347.3" r="1.75" fill="#ed7d31"/><circle cx="125.9" cy="351.97" r="1.75" fill="#ed7d31"/><circle cx="130.44" cy="355.77" r="1.75" fill="#ed7d31"/><circle cx="134.97" cy="358.89" r="1.75" fill="#ed7d31"/><circle cx="139.51" cy="361.66" r="1.75" fill="#ed7d31"/><circle cx="144.04" cy="364.6" r="1.75" fill="#ed7d31"/><circle cx="148.58" cy="366.5" r="1.75" fill="#ed7d31"/><circle cx="153.11" cy="367.88" r="1.75" fill="#ed7d31"/><circle cx="157.65" cy="369.1" r="1.75" fill="#ed7d31"/><circle cx="162.18" cy="371.52" r="1.75" fill="#ed7d31"/><circle cx="166.72" cy="376.36" r="1.75" fill="#ed7d31"/><circle cx="171.25" cy="378.61" r="1.75" fill="#ed7d31"/><circle cx="175.79" cy="379.82" r="1.75" fill="#ed7d31"/><circle cx="180.32" cy="380.51" r="1.75" fill="#ed7d31"/><circle cx="184.86" cy="382.94" r="1.75" fill="#ed7d31"/><circle cx="189.39" cy="385.53" r="1.75" fill="#ed7d31"/><circle cx="193.93" cy="385.88" r="1.75" fill="#ed7d31"/><circle cx="198.46" cy="386.22" r="1.75" fill="#ed7d31"/><circle cx="203" cy="387.43" r="1.75" fill="#ed7d31"/><circle cx="207.53" cy="388.3" r="1.75" fill="#ed7d31"/><circle cx="212.07" cy="388.3" r="1.75" fill="#ed7d31"/><circle cx="216.6" cy="388.99" r="1.75" fill="#ed7d31"/><circle cx="221.14" cy="389.68" r="1.75" fill="#ed7d31"/><circle cx="225.67" cy="390.38" r="1.75" fill="#ed7d31"/><circle cx="230.21" cy="390.89" r="1.75" fill="#ed7d31"/><circle cx="234.74" cy="391.41" r="1.75" fill="#ed7d31"/><circle cx="239.28" cy="392.28" r="1.75" fill="#ed7d31"/><circle cx="243.81" cy="392.97" r="1.75" fill="#ed7d31"/><circle cx="248.35" cy="393.32" r="1.75" fill="#ed7d31"/><circle cx="252.88" cy="393.66" r="1.75" fill="#ed7d31"/><circle cx="257.42" cy="393.73" r="1.75" fill="#ed7d31"/><circle cx="261.95" cy="393.8" r="1.75" fill="#ed7d31"/><circle cx="266.49" cy="393.87" r="1.75" fill="#ed7d31"/><circle cx="271.02" cy="393.94" r="1.75" fill="#ed7d31"/><circle cx="275.56" cy="394.01" r="1.75" fill="#ed7d31"/><circle cx="280.09" cy="394.15" r="1.75" fill="#ed7d31"/><circle cx="284.63" cy="394.28" r="1.75" fill="#ed7d31"/><circle cx="289.16" cy="394.42" r="1.75" fill="#ed7d31"/><circle cx="293.7" cy="394.56" r="1.75" fill="#ed7d31"/><circle cx="298.23" cy="394.7" r="1.75" fill="#ed7d31"/><circle cx="302.77" cy="394.7" r="1.75" fill="#ed7d31"/><circle cx="307.3" cy="394.7" r="1.75" fill="#ed7d31"/><circle cx="311.84" cy="394.7" r="1.75" fill="#ed7d31"/><circle cx="316.37" cy="394.7" r="1.75" fill="#ed7d31"/><circle cx="320.91" cy="394.7" r="1.75" fill="#ed7d31"/><circle cx="325.44" cy="394.7" r="1.75" fill="#ed7d31"/><circle cx="329.98" cy="394.7" r="1.75" fill="#ed7d31"/><circle cx="334.51" cy="394.7" r="1.75" fill="#ed7d31"/><polyline points="30.67,221.7 35.2,237.27 39.74,248.51 44.27,260.62 48.81,270.66 53.34,279.14 57.88,288.13 62.41,295.74 66.95,303.36 71.48,308.37 76.02,314.08 80.55,319.79 85.09,325.15 89.62,330.17 94.16,335.36 98.69,340.38 103.23,344.88 107.76,348.68 112.3,353.01 116.83,355.77 121.37,358.72 125.9,361.83 130.44,364.94 134.97,367.88 139.51,370.31 144.04,372.56 148.58,374.46 153.11,376.02 157.65,377.23 162.18,379.13 166.72,381.72 171.25,382.94 175.79,383.97 180.32,384.84 184.86,386.22 189.39,387.26 193.93,388.13 198.46,388.82 203,389.51 207.53,390.03 212.07,390.46 216.6,390.89 221.14,391.33 225.67,391.76 230.21,392.19 234.74,392.62 239.28,392.97 243.81,393.32 248.35,393.58 252.88,393.83 257.42,394.01 261.95,394.18 266.49,394.35 271.02,394.47 275.56,394.58 280.09,394.7 284.63,394.7 289.16,394.7 293.7,394.7 298.23,394.7 302.77,394.7 307.3,394.7 311.84,394.7 316.37,394.7 320.91,394.7 325.44,394.7 329.98,394.7 334.51,394.7" stroke="#e8b91e" stroke-width="1.3" fill="none" stroke-linejoin="round"/><path d="M29.17 221.7H32.17M30.67 220.2V223.2" stroke="#e8b91e" stroke-width="1.2" fill="none"/><path d="M33.7 237.27H36.7M35.2 235.77V238.77" stroke="#e8b91e" stroke-width="1.2" fill="none"/><path d="M38.24 248.51H41.24M39.74 247.01V250.01" stroke="#e8b91e" stroke-width="1.2" fill="none"/><path d="M42.77 260.62H45.77M44.27 259.12V262.12" stroke="#e8b91e" stroke-width="1.2" fill="none"/><path d="M47.31 270.66H50.31M48.81 269.16V272.16" stroke="#e8b91e" stroke-width="1.2" fill="none"/><path d="M51.84 279.14H54.84M53.34 277.64V280.64" stroke="#e8b91e" stroke-width="1.2" fill="none"/><path d="M56.38 288.13H59.38M57.88 286.63V289.63" stroke="#e8b91e" stroke-width="1.2" fill="none"/><path d="M60.91 295.74H63.91M62.41 294.24V297.24" stroke="#e8b91e" stroke-width="1.2" fill="none"/><path d="M65.45 303.36H68.45M66.95 301.86V304.86" stroke="#e8b91e" stroke-width="1.2" fill="none"/><path d="M69.98 308.37H72.98M71.48 306.87V309.87" stroke="#e8b91e" stroke-width="1.2" fill="none"/><path d="M74.52 314.08H77.52M76.02 312.58V315.58" stroke="#e8b91e" stroke-width="1.2" fill="none"/><path d="M79.05 319.79H82.05M80.55 318.29V321.29" stroke="#e8b91e" stroke-width="1.2" fill="none"/><path d="M83.59 325.15H86.59M85.09 323.65V326.65" stroke="#e8b91e" stroke-width="1.2" fill="none"/><path d="M88.12 330.17H91.12M89.62 328.67V331.67" stroke="#e8b91e" stroke-width="1.2" fill="none"/><path d="M92.66 335.36H95.66M94.16 333.86V336.86" stroke="#e8b91e" stroke-width="1.2" fill="none"/><path d="M97.19 340.38H100.19M98.69 338.88V341.88" stroke="#e8b91e" stroke-width="1.2" fill="none"/><path d="M101.73 344.88H104.73M103.23 343.38V346.38" stroke="#e8b91e" stroke-width="1.2" fill="none"/><path d="M106.26 348.68H109.26M107.76 347.18V350.18" stroke="#e8b91e" stroke-width="1.2" fill="none"/><path d="M110.8 353.01H113.8M112.3 351.51V354.51" stroke="#e8b91e" stroke-width="1.2" fill="none"/><path d="M115.33 355.77H118.33M116.83 354.27V357.27" stroke="#e8b91e" stroke-width="1.2" fill="none"/><path d="M119.87 358.72H122.87M121.37 357.22V360.22" stroke="#e8b91e" stroke-width="1.2" fill="none"/><path d="M124.4 361.83H127.4M125.9 360.33V363.33" stroke="#e8b91e" stroke-width="1.2" fill="none"/><path d="M128.94 364.94H131.94M130.44 363.44V366.44" stroke="#e8b91e" stroke-width="1.2" fill="none"/><path d="M133.47 367.88H136.47M134.97 366.38V369.38" stroke="#e8b91e" stroke-width="1.2" fill="none"/><path d="M138.01 370.31H141.01M139.51 368.81V371.81" stroke="#e8b91e" stroke-width="1.2" fill="none"/><path d="M142.54 372.56H145.54M144.04 371.06V374.06" stroke="#e8b91e" stroke-width="1.2" fill="none"/><path d="M147.08 374.46H150.08M148.58 372.96V375.96" stroke="#e8b91e" stroke-width="1.2" fill="none"/><path d="M151.61 376.02H154.61M153.11 374.52V377.52" stroke="#e8b91e" stroke-width="1.2" fill="none"/><path d="M156.15 377.23H159.15M157.65 375.73V378.73" stroke="#e8b91e" stroke-width="1.2" fill="none"/><path d="M160.68 379.13H163.68M162.18 377.63V380.63" stroke="#e8b91e" stroke-width="1.2" fill="none"/><path d="M165.22 381.72H168.22M166.72 380.22V383.22" stroke="#e8b91e" stroke-width="1.2" fill="none"/><path d="M169.75 382.94H172.75M171.25 381.44V384.44" stroke="#e8b91e" stroke-width="1.2" fill="none"/><path d="M174.29 383.97H177.29M175.79 382.47V385.47" stroke="#e8b91e" stroke-width="1.2" fill="none"/><path d="M178.82 384.84H181.82M180.32 383.34V386.34" stroke="#e8b91e" stroke-width="1.2" fill="none"/><path d="M183.36 386.22H186.36M184.86 384.72V387.72" stroke="#e8b91e" stroke-width="1.2" fill="none"/><path d="M187.89 387.26H190.89M189.39 385.76V388.76" stroke="#e8b91e" stroke-width="1.2" fill="none"/><path d="M192.43 388.13H195.43M193.93 386.63V389.63" stroke="#e8b91e" stroke-width="1.2" fill="none"/><path d="M196.96 388.82H199.96M198.46 387.32V390.32" stroke="#e8b91e" stroke-width="1.2" fill="none"/><path d="M201.5 389.51H204.5M203 388.01V391.01" stroke="#e8b91e" stroke-width="1.2" fill="none"/><path d="M206.03 390.03H209.03M207.53 388.53V391.53" stroke="#e8b91e" stroke-width="1.2" fill="none"/><path d="M210.57 390.46H213.57M212.07 388.96V391.96" stroke="#e8b91e" stroke-width="1.2" fill="none"/><path d="M215.1 390.89H218.1M216.6 389.39V392.39" stroke="#e8b91e" stroke-width="1.2" fill="none"/><path d="M219.64 391.33H222.64M221.14 389.83V392.83" stroke="#e8b91e" stroke-width="1.2" fill="none"/><path d="M224.17 391.76H227.17M225.67 390.26V393.26" stroke="#e8b91e" stroke-width="1.2" fill="none"/><path d="M228.71 392.19H231.71M230.21 390.69V393.69" stroke="#e8b91e" stroke-width="1.2" fill="none"/><path d="M233.24 392.62H236.24M234.74 391.12V394.12" stroke="#e8b91e" stroke-width="1.2" fill="none"/><path d="M237.78 392.97H240.78M239.28 391.47V394.47" stroke="#e8b91e" stroke-width="1.2" fill="none"/><path d="M242.31 393.32H245.31M243.81 391.82V394.82" stroke="#e8b91e" stroke-width="1.2" fill="none"/><path d="M246.85 393.58H249.85M248.35 392.08V395.08" stroke="#e8b91e" stroke-width="1.2" fill="none"/><path d="M251.38 393.83H254.38M252.88 392.33V395.33" stroke="#e8b91e" stroke-width="1.2" fill="none"/><path d="M255.92 394.01H258.92M257.42 392.51V395.51" stroke="#e8b91e" stroke-width="1.2" fill="none"/><path d="M260.45 394.18H263.45M261.95 392.68V395.68" stroke="#e8b91e" stroke-width="1.2" fill="none"/><path d="M264.99 394.35H267.99M266.49 392.85V395.85" stroke="#e8b91e" stroke-width="1.2" fill="none"/><path d="M269.52 394.47H272.52M271.02 392.97V395.97" stroke="#e8b91e" stroke-width="1.2" fill="none"/><path d="M274.06 394.58H277.06M275.56 393.08V396.08" stroke="#e8b91e" stroke-width="1.2" fill="none"/><path d="M278.59 394.7H281.59M280.09 393.2V396.2" stroke="#e8b91e" stroke-width="1.2" fill="none"/><path d="M283.13 394.7H286.13M284.63 393.2V396.2" stroke="#e8b91e" stroke-width="1.2" fill="none"/><path d="M287.66 394.7H290.66M289.16 393.2V396.2" stroke="#e8b91e" stroke-width="1.2" fill="none"/><path d="M292.2 394.7H295.2M293.7 393.2V396.2" stroke="#e8b91e" stroke-width="1.2" fill="none"/><path d="M296.73 394.7H299.73M298.23 393.2V396.2" stroke="#e8b91e" stroke-width="1.2" fill="none"/><path d="M301.27 394.7H304.27M302.77 393.2V396.2" stroke="#e8b91e" stroke-width="1.2" fill="none"/><path d="M305.8 394.7H308.8M307.3 393.2V396.2" stroke="#e8b91e" stroke-width="1.2" fill="none"/><path d="M310.34 394.7H313.34M311.84 393.2V396.2" stroke="#e8b91e" stroke-width="1.2" fill="none"/><path d="M314.87 394.7H317.87M316.37 393.2V396.2" stroke="#e8b91e" stroke-width="1.2" fill="none"/><path d="M319.41 394.7H322.41M320.91 393.2V396.2" stroke="#e8b91e" stroke-width="1.2" fill="none"/><path d="M323.94 394.7H326.94M325.44 393.2V396.2" stroke="#e8b91e" stroke-width="1.2" fill="none"/><path d="M328.48 394.7H331.48M329.98 393.2V396.2" stroke="#e8b91e" stroke-width="1.2" fill="none"/><path d="M333.01 394.7H336.01M334.51 393.2V396.2" stroke="#e8b91e" stroke-width="1.2" fill="none"/><polyline points="30.67,221.7 35.2,229.14 39.74,233.12 44.27,239.69 48.81,244.54 53.34,252.84 57.88,253.36 62.41,258.89 66.95,261.32 71.48,263.22 76.02,270.31 80.55,275.16 85.09,277.58 89.62,282.77 94.16,284.15 98.69,290.73 103.23,297.99 107.76,302.66 112.3,307.51 116.83,313.74 121.37,315.64 125.9,318.93 130.44,321.87 134.97,323.25 139.51,323.6 144.04,327.06 148.58,330.52 153.11,331.21 157.65,333.98 162.18,334.32 166.72,338.47 171.25,346.95 175.79,348.86 180.32,350.24 184.86,350.76 189.39,352.14 193.93,354.04 198.46,357.5 203,360.1 207.53,364.25 212.07,366.33 216.6,367.37 221.14,369.62 225.67,371 230.21,375.5 234.74,378.09 239.28,380.17 243.81,380.86 248.35,382.24 252.88,383.28 257.42,384.32 261.95,385.19 266.49,385.88 271.02,386.91 275.56,387.61 280.09,388.13 284.63,388.47 289.16,389.51 293.7,390.72 298.23,391.41 302.77,392.45 307.3,393.66 311.84,394.35 316.37,394.7 320.91,394.7 325.44,394.7 329.98,394.7 334.51,394.7" stroke="#7bd04a" stroke-width="1.2" fill="none" stroke-linejoin="round"/><path d="M29.37 220.4L31.97 223M31.97 220.4L29.37 223" stroke="#74ca44" stroke-width="0.7" fill="none"/><path d="M33.9 227.84L36.5 230.44M36.5 227.84L33.9 230.44" stroke="#74ca44" stroke-width="0.7" fill="none"/><path d="M38.44 231.82L41.04 234.42M41.04 231.82L38.44 234.42" stroke="#74ca44" stroke-width="0.7" fill="none"/><path d="M42.97 238.39L45.57 240.99M45.57 238.39L42.97 240.99" stroke="#74ca44" stroke-width="0.7" fill="none"/><path d="M47.51 243.24L50.11 245.84M50.11 243.24L47.51 245.84" stroke="#74ca44" stroke-width="0.7" fill="none"/><path d="M52.04 251.54L54.64 254.14M54.64 251.54L52.04 254.14" stroke="#74ca44" stroke-width="0.7" fill="none"/><path d="M56.58 252.06L59.18 254.66M59.18 252.06L56.58 254.66" stroke="#74ca44" stroke-width="0.7" fill="none"/><path d="M61.11 257.59L63.71 260.19M63.71 257.59L61.11 260.19" stroke="#74ca44" stroke-width="0.7" fill="none"/><path d="M65.65 260.02L68.25 262.62M68.25 260.02L65.65 262.62" stroke="#74ca44" stroke-width="0.7" fill="none"/><path d="M70.18 261.92L72.78 264.52M72.78 261.92L70.18 264.52" stroke="#74ca44" stroke-width="0.7" fill="none"/><path d="M74.72 269.01L77.32 271.61M77.32 269.01L74.72 271.61" stroke="#74ca44" stroke-width="0.7" fill="none"/><path d="M79.25 273.86L81.85 276.46M81.85 273.86L79.25 276.46" stroke="#74ca44" stroke-width="0.7" fill="none"/><path d="M83.79 276.28L86.39 278.88M86.39 276.28L83.79 278.88" stroke="#74ca44" stroke-width="0.7" fill="none"/><path d="M88.32 281.47L90.92 284.07M90.92 281.47L88.32 284.07" stroke="#74ca44" stroke-width="0.7" fill="none"/><path d="M92.86 282.85L95.46 285.45M95.46 282.85L92.86 285.45" stroke="#74ca44" stroke-width="0.7" fill="none"/><path d="M97.39 289.43L99.99 292.03M99.99 289.43L97.39 292.03" stroke="#74ca44" stroke-width="0.7" fill="none"/><path d="M101.93 296.69L104.53 299.29M104.53 296.69L101.93 299.29" stroke="#74ca44" stroke-width="0.7" fill="none"/><path d="M106.46 301.36L109.06 303.96M109.06 301.36L106.46 303.96" stroke="#74ca44" stroke-width="0.7" fill="none"/><path d="M111 306.21L113.6 308.81M113.6 306.21L111 308.81" stroke="#74ca44" stroke-width="0.7" fill="none"/><path d="M115.53 312.44L118.13 315.04M118.13 312.44L115.53 315.04" stroke="#74ca44" stroke-width="0.7" fill="none"/><path d="M120.07 314.34L122.67 316.94M122.67 314.34L120.07 316.94" stroke="#74ca44" stroke-width="0.7" fill="none"/><path d="M124.6 317.63L127.2 320.23M127.2 317.63L124.6 320.23" stroke="#74ca44" stroke-width="0.7" fill="none"/><path d="M129.14 320.57L131.74 323.17M131.74 320.57L129.14 323.17" stroke="#74ca44" stroke-width="0.7" fill="none"/><path d="M133.67 321.95L136.27 324.55M136.27 321.95L133.67 324.55" stroke="#74ca44" stroke-width="0.7" fill="none"/><path d="M138.21 322.3L140.81 324.9M140.81 322.3L138.21 324.9" stroke="#74ca44" stroke-width="0.7" fill="none"/><path d="M142.74 325.76L145.34 328.36M145.34 325.76L142.74 328.36" stroke="#74ca44" stroke-width="0.7" fill="none"/><path d="M147.28 329.22L149.88 331.82M149.88 329.22L147.28 331.82" stroke="#74ca44" stroke-width="0.7" fill="none"/><path d="M151.81 329.91L154.41 332.51M154.41 329.91L151.81 332.51" stroke="#74ca44" stroke-width="0.7" fill="none"/><path d="M156.35 332.68L158.95 335.28M158.95 332.68L156.35 335.28" stroke="#74ca44" stroke-width="0.7" fill="none"/><path d="M160.88 333.02L163.48 335.62M163.48 333.02L160.88 335.62" stroke="#74ca44" stroke-width="0.7" fill="none"/><path d="M165.42 337.17L168.02 339.77M168.02 337.17L165.42 339.77" stroke="#74ca44" stroke-width="0.7" fill="none"/><path d="M169.95 345.65L172.55 348.25M172.55 345.65L169.95 348.25" stroke="#74ca44" stroke-width="0.7" fill="none"/><path d="M174.49 347.56L177.09 350.16M177.09 347.56L174.49 350.16" stroke="#74ca44" stroke-width="0.7" fill="none"/><path d="M179.02 348.94L181.62 351.54M181.62 348.94L179.02 351.54" stroke="#74ca44" stroke-width="0.7" fill="none"/><path d="M183.56 349.46L186.16 352.06M186.16 349.46L183.56 352.06" stroke="#74ca44" stroke-width="0.7" fill="none"/><path d="M188.09 350.84L190.69 353.44M190.69 350.84L188.09 353.44" stroke="#74ca44" stroke-width="0.7" fill="none"/><path d="M192.63 352.74L195.23 355.34M195.23 352.74L192.63 355.34" stroke="#74ca44" stroke-width="0.7" fill="none"/><path d="M197.16 356.2L199.76 358.81M199.76 356.2L197.16 358.81" stroke="#74ca44" stroke-width="0.7" fill="none"/><path d="M201.7 358.8L204.3 361.4M204.3 358.8L201.7 361.4" stroke="#74ca44" stroke-width="0.7" fill="none"/><path d="M206.23 362.95L208.83 365.55M208.83 362.95L206.23 365.55" stroke="#74ca44" stroke-width="0.7" fill="none"/><path d="M210.77 365.03L213.37 367.63M213.37 365.03L210.77 367.63" stroke="#74ca44" stroke-width="0.7" fill="none"/><path d="M215.3 366.07L217.9 368.67M217.9 366.07L215.3 368.67" stroke="#74ca44" stroke-width="0.7" fill="none"/><path d="M219.84 368.31L222.44 370.92M222.44 368.31L219.84 370.92" stroke="#74ca44" stroke-width="0.7" fill="none"/><path d="M224.37 369.7L226.97 372.3M226.97 369.7L224.37 372.3" stroke="#74ca44" stroke-width="0.7" fill="none"/><path d="M228.91 374.2L231.51 376.8M231.51 374.2L228.91 376.8" stroke="#74ca44" stroke-width="0.7" fill="none"/><path d="M233.44 376.79L236.04 379.39M236.04 376.79L233.44 379.39" stroke="#74ca44" stroke-width="0.7" fill="none"/><path d="M237.98 378.87L240.58 381.47M240.58 378.87L237.98 381.47" stroke="#74ca44" stroke-width="0.7" fill="none"/><path d="M242.51 379.56L245.11 382.16M245.11 379.56L242.51 382.16" stroke="#74ca44" stroke-width="0.7" fill="none"/><path d="M247.05 380.94L249.65 383.54M249.65 380.94L247.05 383.54" stroke="#74ca44" stroke-width="0.7" fill="none"/><path d="M251.58 381.98L254.18 384.58M254.18 381.98L251.58 384.58" stroke="#74ca44" stroke-width="0.7" fill="none"/><path d="M256.12 383.02L258.72 385.62M258.72 383.02L256.12 385.62" stroke="#74ca44" stroke-width="0.7" fill="none"/><path d="M260.65 383.88L263.25 386.49M263.25 383.88L260.65 386.49" stroke="#74ca44" stroke-width="0.7" fill="none"/><path d="M265.19 384.58L267.79 387.18M267.79 384.58L265.19 387.18" stroke="#74ca44" stroke-width="0.7" fill="none"/><path d="M269.72 385.61L272.32 388.21M272.32 385.61L269.72 388.21" stroke="#74ca44" stroke-width="0.7" fill="none"/><path d="M274.26 386.31L276.86 388.91M276.86 386.31L274.26 388.91" stroke="#74ca44" stroke-width="0.7" fill="none"/><path d="M278.79 386.83L281.39 389.43M281.39 386.83L278.79 389.43" stroke="#74ca44" stroke-width="0.7" fill="none"/><path d="M283.33 387.17L285.93 389.77M285.93 387.17L283.33 389.77" stroke="#74ca44" stroke-width="0.7" fill="none"/><path d="M287.86 388.21L290.46 390.81M290.46 388.21L287.86 390.81" stroke="#74ca44" stroke-width="0.7" fill="none"/><path d="M292.4 389.42L295 392.02M295 389.42L292.4 392.02" stroke="#74ca44" stroke-width="0.7" fill="none"/><path d="M296.93 390.11L299.53 392.71M299.53 390.11L296.93 392.71" stroke="#74ca44" stroke-width="0.7" fill="none"/><path d="M301.47 391.15L304.07 393.75M304.07 391.15L301.47 393.75" stroke="#74ca44" stroke-width="0.7" fill="none"/><path d="M306 392.36L308.6 394.96M308.6 392.36L306 394.96" stroke="#74ca44" stroke-width="0.7" fill="none"/><path d="M310.54 393.05L313.14 395.65M313.14 393.05L310.54 395.65" stroke="#74ca44" stroke-width="0.7" fill="none"/><path d="M315.07 393.4L317.67 396M317.67 393.4L315.07 396" stroke="#74ca44" stroke-width="0.7" fill="none"/><path d="M319.61 393.4L322.21 396M322.21 393.4L319.61 396" stroke="#74ca44" stroke-width="0.7" fill="none"/><path d="M324.14 393.4L326.74 396M326.74 393.4L324.14 396" stroke="#74ca44" stroke-width="0.7" fill="none"/><path d="M328.68 393.4L331.28 396M331.28 393.4L328.68 396" stroke="#74ca44" stroke-width="0.7" fill="none"/><path d="M333.21 393.4L335.81 396M335.81 393.4L333.21 396" stroke="#74ca44" stroke-width="0.7" fill="none"/><path d="M278 228.3H292.4" stroke="#4472c4" stroke-width="1.4"/><path d="M282.9 230L285.2 226.2L287.5 230Z" fill="#4472c4"/><text x="294" y="231.7" class="t10">Degree</text><path d="M278 243.5H292.4" stroke="#f0a070" stroke-width="1.4"/><circle cx="285.2" cy="243.5" r="1.75" fill="#ed7d31"/><text x="294" y="246.9" class="t10">Indegree</text><path d="M278 259.4H292.4" stroke="#e8b91e" stroke-width="1.4"/><path d="M283.7 259.4H286.7M285.2 257.9V260.9" stroke="#e8b91e" stroke-width="1.2" fill="none"/><text x="294" y="262.8" class="t10">Outdegree</text><path d="M278 274.4H292.4" stroke="#8fdc6a" stroke-width="1.4"/><path d="M283.9 273.1L286.5 275.7M286.5 273.1L283.9 275.7" stroke="#74ca44" stroke-width="0.7" fill="none"/><text x="294" y="277.8" class="t10">Rand</text></g><g><path d="M375.4 223.3V396.2" stroke="#252525" stroke-width="1.2" fill="none"/><path d="M374.9 396.2H683.78" stroke="#333333" stroke-width="1.4" fill="none"/><path d="M375.4 396.2H378M375.4 361.62H378M375.4 327.04H378M375.4 292.46H378M375.4 257.88H378M375.4 223.3H378M375.4 396.2V398.8M398.07 396.2V398.8M420.75 396.2V398.8M443.42 396.2V398.8M466.1 396.2V398.8M488.77 396.2V398.8M511.45 396.2V398.8M534.12 396.2V398.8M556.8 396.2V398.8M579.48 396.2V398.8M602.15 396.2V398.8M624.83 396.2V398.8M647.5 396.2V398.8M670.17 396.2V398.8" stroke="#1e1e1e" stroke-width="0.9" fill="none"/><text x="368.1" y="399" text-anchor="end" class="t9">0</text><text x="368.1" y="364.42" text-anchor="end" class="t9">0.2</text><text x="368.1" y="329.84" text-anchor="end" class="t9">0.4</text><text x="368.1" y="295.26" text-anchor="end" class="t9">0.6</text><text x="368.1" y="260.68" text-anchor="end" class="t9">0.8</text><text x="368.1" y="226.1" text-anchor="end" class="t9">1</text><text x="377.67" y="409.4" text-anchor="middle" class="t9">1</text><text x="400.34" y="409.4" text-anchor="middle" class="t9">6</text><text x="423.02" y="409.4" text-anchor="middle" class="t9">11</text><text x="445.69" y="409.4" text-anchor="middle" class="t9">16</text><text x="468.37" y="409.4" text-anchor="middle" class="t9">21</text><text x="491.04" y="409.4" text-anchor="middle" class="t9">26</text><text x="513.72" y="409.4" text-anchor="middle" class="t9">31</text><text x="536.39" y="409.4" text-anchor="middle" class="t9">36</text><text x="559.07" y="409.4" text-anchor="middle" class="t9">41</text><text x="581.74" y="409.4" text-anchor="middle" class="t9">46</text><text x="604.42" y="409.4" text-anchor="middle" class="t9">51</text><text x="627.09" y="409.4" text-anchor="middle" class="t9">56</text><text x="649.77" y="409.4" text-anchor="middle" class="t9">61</text><text x="672.44" y="409.4" text-anchor="middle" class="t9">66</text><text x="473.6" y="420.7" class="tx">Number of Attacked Nodes</text><text transform="translate(355.4 310.1) rotate(-90)" text-anchor="middle" class="tt">Connectivity Robustness</text><text x="393.4" y="228" class="t19">(d)</text><polyline points="377.67,223.3 382.2,242.15 386.74,254.25 391.27,264.97 395.81,274.31 400.34,284.68 404.88,293.67 409.41,302.14 413.95,309.75 418.48,316.49 423.02,323.58 427.55,329.81 432.09,335.51 436.62,340.01 441.16,344.5 445.69,348.65 450.23,352.98 454.76,357.47 459.3,361.27 463.83,364.21 468.37,367.5 472.9,370.26 477.44,372.69 481.97,374.76 486.51,376.32 491.04,378.39 495.58,380.47 500.11,381.68 504.65,382.89 509.18,385.48 513.72,386.34 518.25,387.38 522.79,388.25 527.32,389.28 531.86,389.98 536.39,390.67 540.93,391.27 545.46,391.88 550,392.4 554.53,392.91 559.07,393.35 563.6,393.78 568.14,394.13 572.67,394.47 577.21,394.73 581.74,394.99 586.28,395.25 590.81,395.51 595.35,395.68 599.88,395.85 604.42,396.03 608.95,396.2 613.49,396.2 618.02,396.2 622.56,396.2 627.09,396.2 631.63,396.2 636.16,396.2 640.7,396.2 645.23,396.2 649.77,396.2 654.3,396.2 658.84,396.2 663.37,396.2 667.91,396.2 672.44,396.2 676.98,396.2 681.51,396.2" stroke="#5a84cc" stroke-width="1.0" fill="none" stroke-linejoin="round"/><path d="M375.37 225L377.67 221.2L379.97 225Z" fill="#4472c4"/><path d="M379.9 243.85L382.2 240.05L384.5 243.85Z" fill="#4472c4"/><path d="M384.44 255.95L386.74 252.15L389.04 255.95Z" fill="#4472c4"/><path d="M388.97 266.67L391.27 262.87L393.57 266.67Z" fill="#4472c4"/><path d="M393.51 276.01L395.81 272.21L398.11 276.01Z" fill="#4472c4"/><path d="M398.04 286.38L400.34 282.58L402.64 286.38Z" fill="#4472c4"/><path d="M402.58 295.37L404.88 291.57L407.18 295.37Z" fill="#4472c4"/><path d="M407.11 303.84L409.41 300.04L411.71 303.84Z" fill="#4472c4"/><path d="M411.65 311.45L413.95 307.65L416.25 311.45Z" fill="#4472c4"/><path d="M416.18 318.19L418.48 314.39L420.78 318.19Z" fill="#4472c4"/><path d="M420.72 325.28L423.02 321.48L425.32 325.28Z" fill="#4472c4"/><path d="M425.25 331.51L427.55 327.71L429.85 331.51Z" fill="#4472c4"/><path d="M429.79 337.21L432.09 333.41L434.39 337.21Z" fill="#4472c4"/><path d="M434.32 341.71L436.62 337.91L438.92 341.71Z" fill="#4472c4"/><path d="M438.86 346.2L441.16 342.4L443.46 346.2Z" fill="#4472c4"/><path d="M443.39 350.35L445.69 346.55L447.99 350.35Z" fill="#4472c4"/><path d="M447.93 354.68L450.23 350.88L452.53 354.68Z" fill="#4472c4"/><path d="M452.46 359.17L454.76 355.37L457.06 359.17Z" fill="#4472c4"/><path d="M457 362.97L459.3 359.17L461.6 362.97Z" fill="#4472c4"/><path d="M461.53 365.91L463.83 362.11L466.13 365.91Z" fill="#4472c4"/><path d="M466.07 369.2L468.37 365.4L470.67 369.2Z" fill="#4472c4"/><path d="M470.6 371.96L472.9 368.16L475.2 371.96Z" fill="#4472c4"/><path d="M475.14 374.39L477.44 370.59L479.74 374.39Z" fill="#4472c4"/><path d="M479.67 376.46L481.97 372.66L484.27 376.46Z" fill="#4472c4"/><path d="M484.21 378.02L486.51 374.22L488.81 378.02Z" fill="#4472c4"/><path d="M488.74 380.09L491.04 376.29L493.34 380.09Z" fill="#4472c4"/><path d="M493.28 382.17L495.58 378.37L497.88 382.17Z" fill="#4472c4"/><path d="M497.81 383.38L500.11 379.58L502.41 383.38Z" fill="#4472c4"/><path d="M502.35 384.59L504.65 380.79L506.95 384.59Z" fill="#4472c4"/><path d="M506.88 387.18L509.18 383.38L511.48 387.18Z" fill="#4472c4"/><path d="M511.42 388.04L513.72 384.24L516.02 388.04Z" fill="#4472c4"/><path d="M515.95 389.08L518.25 385.28L520.55 389.08Z" fill="#4472c4"/><path d="M520.49 389.95L522.79 386.15L525.09 389.95Z" fill="#4472c4"/><path d="M525.02 390.98L527.32 387.18L529.62 390.98Z" fill="#4472c4"/><path d="M529.56 391.68L531.86 387.88L534.16 391.68Z" fill="#4472c4"/><path d="M534.09 392.37L536.39 388.57L538.69 392.37Z" fill="#4472c4"/><path d="M538.63 392.97L540.93 389.17L543.23 392.97Z" fill="#4472c4"/><path d="M543.16 393.58L545.46 389.78L547.76 393.58Z" fill="#4472c4"/><path d="M547.7 394.1L550 390.3L552.3 394.1Z" fill="#4472c4"/><path d="M552.23 394.61L554.53 390.81L556.83 394.61Z" fill="#4472c4"/><path d="M556.77 395.05L559.07 391.25L561.37 395.05Z" fill="#4472c4"/><path d="M561.3 395.48L563.6 391.68L565.9 395.48Z" fill="#4472c4"/><path d="M565.84 395.83L568.14 392.03L570.44 395.83Z" fill="#4472c4"/><path d="M570.37 396.17L572.67 392.37L574.97 396.17Z" fill="#4472c4"/><path d="M574.91 396.43L577.21 392.63L579.51 396.43Z" fill="#4472c4"/><path d="M579.44 396.69L581.74 392.89L584.04 396.69Z" fill="#4472c4"/><path d="M583.98 396.95L586.28 393.15L588.58 396.95Z" fill="#4472c4"/><path d="M588.51 397.21L590.81 393.41L593.11 397.21Z" fill="#4472c4"/><path d="M593.05 397.38L595.35 393.58L597.65 397.38Z" fill="#4472c4"/><path d="M597.58 397.55L599.88 393.75L602.18 397.55Z" fill="#4472c4"/><path d="M602.12 397.73L604.42 393.93L606.72 397.73Z" fill="#4472c4"/><path d="M606.65 397.9L608.95 394.1L611.25 397.9Z" fill="#4472c4"/><path d="M611.19 397.9L613.49 394.1L615.79 397.9Z" fill="#4472c4"/><path d="M615.72 397.9L618.02 394.1L620.32 397.9Z" fill="#4472c4"/><path d="M620.26 397.9L622.56 394.1L624.86 397.9Z" fill="#4472c4"/><path d="M624.79 397.9L627.09 394.1L629.39 397.9Z" fill="#4472c4"/><path d="M629.33 397.9L631.63 394.1L633.93 397.9Z" fill="#4472c4"/><path d="M633.86 397.9L636.16 394.1L638.46 397.9Z" fill="#4472c4"/><path d="M638.4 397.9L640.7 394.1L643 397.9Z" fill="#4472c4"/><path d="M642.93 397.9L645.23 394.1L647.53 397.9Z" fill="#4472c4"/><path d="M647.47 397.9L649.77 394.1L652.07 397.9Z" fill="#4472c4"/><path d="M652 397.9L654.3 394.1L656.6 397.9Z" fill="#4472c4"/><path d="M656.54 397.9L658.84 394.1L661.14 397.9Z" fill="#4472c4"/><path d="M661.07 397.9L663.37 394.1L665.67 397.9Z" fill="#4472c4"/><path d="M665.61 397.9L667.91 394.1L670.21 397.9Z" fill="#4472c4"/><path d="M670.14 397.9L672.44 394.1L674.74 397.9Z" fill="#4472c4"/><path d="M674.68 397.9L676.98 394.1L679.28 397.9Z" fill="#4472c4"/><path d="M679.21 397.9L681.51 394.1L683.81 397.9Z" fill="#4472c4"/><polyline points="377.67,223.3 382.2,240.07 386.74,252.17 391.27,260.65 395.81,270.33 400.34,278.63 404.88,284.68 409.41,293.67 413.95,303.53 418.48,309.75 423.02,312.69 427.55,320.99 432.09,325.48 436.62,328.6 441.16,331.19 445.69,336.38 450.23,342.08 454.76,345.02 459.3,350.73 463.83,352.98 468.37,357.99 472.9,360.24 477.44,362.14 481.97,364.56 486.51,368.36 491.04,371.13 495.58,372.17 500.11,374.07 504.65,379.77 509.18,382.54 513.72,383.58 518.25,384.44 522.79,385.31 527.32,385.83 531.86,386.17 536.39,387.73 540.93,388.42 545.46,389.46 550,390.15 554.53,390.15 559.07,391.19 563.6,391.7 568.14,392.22 572.67,392.74 577.21,393.09 581.74,393.95 586.28,393.95 590.81,394.47 595.35,394.64 599.88,394.82 604.42,394.99 608.95,395.16 613.49,395.25 618.02,395.34 622.56,395.42 627.09,395.51 631.63,395.64 636.16,395.77 640.7,395.9 645.23,396.03 649.77,396.11 654.3,396.2 658.84,396.2 663.37,396.2 667.91,396.2 672.44,396.2 676.98,396.2 681.51,396.2" stroke="#ed7d31" stroke-width="1.15" fill="none" stroke-linejoin="round"/><circle cx="377.67" cy="223.3" r="1.75" fill="#ed7d31"/><circle cx="382.2" cy="240.07" r="1.75" fill="#ed7d31"/><circle cx="386.74" cy="252.17" r="1.75" fill="#ed7d31"/><circle cx="391.27" cy="260.65" r="1.75" fill="#ed7d31"/><circle cx="395.81" cy="270.33" r="1.75" fill="#ed7d31"/><circle cx="400.34" cy="278.63" r="1.75" fill="#ed7d31"/><circle cx="404.88" cy="284.68" r="1.75" fill="#ed7d31"/><circle cx="409.41" cy="293.67" r="1.75" fill="#ed7d31"/><circle cx="413.95" cy="303.53" r="1.75" fill="#ed7d31"/><circle cx="418.48" cy="309.75" r="1.75" fill="#ed7d31"/><circle cx="423.02" cy="312.69" r="1.75" fill="#ed7d31"/><circle cx="427.55" cy="320.99" r="1.75" fill="#ed7d31"/><circle cx="432.09" cy="325.48" r="1.75" fill="#ed7d31"/><circle cx="436.62" cy="328.6" r="1.75" fill="#ed7d31"/><circle cx="441.16" cy="331.19" r="1.75" fill="#ed7d31"/><circle cx="445.69" cy="336.38" r="1.75" fill="#ed7d31"/><circle cx="450.23" cy="342.08" r="1.75" fill="#ed7d31"/><circle cx="454.76" cy="345.02" r="1.75" fill="#ed7d31"/><circle cx="459.3" cy="350.73" r="1.75" fill="#ed7d31"/><circle cx="463.83" cy="352.98" r="1.75" fill="#ed7d31"/><circle cx="468.37" cy="357.99" r="1.75" fill="#ed7d31"/><circle cx="472.9" cy="360.24" r="1.75" fill="#ed7d31"/><circle cx="477.44" cy="362.14" r="1.75" fill="#ed7d31"/><circle cx="481.97" cy="364.56" r="1.75" fill="#ed7d31"/><circle cx="486.51" cy="368.36" r="1.75" fill="#ed7d31"/><circle cx="491.04" cy="371.13" r="1.75" fill="#ed7d31"/><circle cx="495.58" cy="372.17" r="1.75" fill="#ed7d31"/><circle cx="500.11" cy="374.07" r="1.75" fill="#ed7d31"/><circle cx="504.65" cy="379.77" r="1.75" fill="#ed7d31"/><circle cx="509.18" cy="382.54" r="1.75" fill="#ed7d31"/><circle cx="513.72" cy="383.58" r="1.75" fill="#ed7d31"/><circle cx="518.25" cy="384.44" r="1.75" fill="#ed7d31"/><circle cx="522.79" cy="385.31" r="1.75" fill="#ed7d31"/><circle cx="527.32" cy="385.83" r="1.75" fill="#ed7d31"/><circle cx="531.86" cy="386.17" r="1.75" fill="#ed7d31"/><circle cx="536.39" cy="387.73" r="1.75" fill="#ed7d31"/><circle cx="540.93" cy="388.42" r="1.75" fill="#ed7d31"/><circle cx="545.46" cy="389.46" r="1.75" fill="#ed7d31"/><circle cx="550" cy="390.15" r="1.75" fill="#ed7d31"/><circle cx="554.53" cy="390.15" r="1.75" fill="#ed7d31"/><circle cx="559.07" cy="391.19" r="1.75" fill="#ed7d31"/><circle cx="563.6" cy="391.7" r="1.75" fill="#ed7d31"/><circle cx="568.14" cy="392.22" r="1.75" fill="#ed7d31"/><circle cx="572.67" cy="392.74" r="1.75" fill="#ed7d31"/><circle cx="577.21" cy="393.09" r="1.75" fill="#ed7d31"/><circle cx="581.74" cy="393.95" r="1.75" fill="#ed7d31"/><circle cx="586.28" cy="393.95" r="1.75" fill="#ed7d31"/><circle cx="590.81" cy="394.47" r="1.75" fill="#ed7d31"/><circle cx="595.35" cy="394.64" r="1.75" fill="#ed7d31"/><circle cx="599.88" cy="394.82" r="1.75" fill="#ed7d31"/><circle cx="604.42" cy="394.99" r="1.75" fill="#ed7d31"/><circle cx="608.95" cy="395.16" r="1.75" fill="#ed7d31"/><circle cx="613.49" cy="395.25" r="1.75" fill="#ed7d31"/><circle cx="618.02" cy="395.34" r="1.75" fill="#ed7d31"/><circle cx="622.56" cy="395.42" r="1.75" fill="#ed7d31"/><circle cx="627.09" cy="395.51" r="1.75" fill="#ed7d31"/><circle cx="631.63" cy="395.64" r="1.75" fill="#ed7d31"/><circle cx="636.16" cy="395.77" r="1.75" fill="#ed7d31"/><circle cx="640.7" cy="395.9" r="1.75" fill="#ed7d31"/><circle cx="645.23" cy="396.03" r="1.75" fill="#ed7d31"/><circle cx="649.77" cy="396.11" r="1.75" fill="#ed7d31"/><circle cx="654.3" cy="396.2" r="1.75" fill="#ed7d31"/><circle cx="658.84" cy="396.2" r="1.75" fill="#ed7d31"/><circle cx="663.37" cy="396.2" r="1.75" fill="#ed7d31"/><circle cx="667.91" cy="396.2" r="1.75" fill="#ed7d31"/><circle cx="672.44" cy="396.2" r="1.75" fill="#ed7d31"/><circle cx="676.98" cy="396.2" r="1.75" fill="#ed7d31"/><circle cx="681.51" cy="396.2" r="1.75" fill="#ed7d31"/><polyline points="377.67,223.3 382.2,241.11 386.74,253.21 391.27,263.07 395.81,271.37 400.34,282.78 404.88,292.29 409.41,299.72 413.95,308.89 418.48,314.94 423.02,321.51 427.55,327.39 432.09,332.92 436.62,337.76 441.16,341.04 445.69,346.4 450.23,350.38 454.76,354.19 459.3,357.47 463.83,360.06 468.37,362.48 472.9,364.56 477.44,366.46 481.97,368.88 486.51,371.65 491.04,374.07 495.58,376.49 500.11,378.74 504.65,380.64 509.18,382.54 513.72,384.44 518.25,386 522.79,387.38 527.32,388.25 531.86,388.94 536.39,389.63 540.93,390.23 545.46,390.84 550,391.36 554.53,391.88 559.07,392.4 563.6,392.91 568.14,393.35 572.67,393.78 577.21,394.13 581.74,394.47 586.28,394.73 590.81,394.99 595.35,395.16 599.88,395.34 604.42,395.51 608.95,395.68 613.49,395.85 618.02,395.97 622.56,396.08 627.09,396.2 631.63,396.2 636.16,396.2 640.7,396.2 645.23,396.2 649.77,396.2 654.3,396.2 658.84,396.2 663.37,396.2 667.91,396.2 672.44,396.2 676.98,396.2 681.51,396.2" stroke="#e8b91e" stroke-width="1.3" fill="none" stroke-linejoin="round"/><path d="M376.17 223.3H379.17M377.67 221.8V224.8" stroke="#e8b91e" stroke-width="1.2" fill="none"/><path d="M380.7 241.11H383.7M382.2 239.61V242.61" stroke="#e8b91e" stroke-width="1.2" fill="none"/><path d="M385.24 253.21H388.24M386.74 251.71V254.71" stroke="#e8b91e" stroke-width="1.2" fill="none"/><path d="M389.77 263.07H392.77M391.27 261.57V264.57" stroke="#e8b91e" stroke-width="1.2" fill="none"/><path d="M394.31 271.37H397.31M395.81 269.87V272.87" stroke="#e8b91e" stroke-width="1.2" fill="none"/><path d="M398.84 282.78H401.84M400.34 281.28V284.28" stroke="#e8b91e" stroke-width="1.2" fill="none"/><path d="M403.38 292.29H406.38M404.88 290.79V293.79" stroke="#e8b91e" stroke-width="1.2" fill="none"/><path d="M407.91 299.72H410.91M409.41 298.22V301.22" stroke="#e8b91e" stroke-width="1.2" fill="none"/><path d="M412.45 308.89H415.45M413.95 307.39V310.39" stroke="#e8b91e" stroke-width="1.2" fill="none"/><path d="M416.98 314.94H419.98M418.48 313.44V316.44" stroke="#e8b91e" stroke-width="1.2" fill="none"/><path d="M421.52 321.51H424.52M423.02 320.01V323.01" stroke="#e8b91e" stroke-width="1.2" fill="none"/><path d="M426.05 327.39H429.05M427.55 325.89V328.89" stroke="#e8b91e" stroke-width="1.2" fill="none"/><path d="M430.59 332.92H433.59M432.09 331.42V334.42" stroke="#e8b91e" stroke-width="1.2" fill="none"/><path d="M435.12 337.76H438.12M436.62 336.26V339.26" stroke="#e8b91e" stroke-width="1.2" fill="none"/><path d="M439.66 341.04H442.66M441.16 339.54V342.54" stroke="#e8b91e" stroke-width="1.2" fill="none"/><path d="M444.19 346.4H447.19M445.69 344.9V347.9" stroke="#e8b91e" stroke-width="1.2" fill="none"/><path d="M448.73 350.38H451.73M450.23 348.88V351.88" stroke="#e8b91e" stroke-width="1.2" fill="none"/><path d="M453.26 354.19H456.26M454.76 352.69V355.69" stroke="#e8b91e" stroke-width="1.2" fill="none"/><path d="M457.8 357.47H460.8M459.3 355.97V358.97" stroke="#e8b91e" stroke-width="1.2" fill="none"/><path d="M462.33 360.06H465.33M463.83 358.56V361.56" stroke="#e8b91e" stroke-width="1.2" fill="none"/><path d="M466.87 362.48H469.87M468.37 360.98V363.98" stroke="#e8b91e" stroke-width="1.2" fill="none"/><path d="M471.4 364.56H474.4M472.9 363.06V366.06" stroke="#e8b91e" stroke-width="1.2" fill="none"/><path d="M475.94 366.46H478.94M477.44 364.96V367.96" stroke="#e8b91e" stroke-width="1.2" fill="none"/><path d="M480.47 368.88H483.47M481.97 367.38V370.38" stroke="#e8b91e" stroke-width="1.2" fill="none"/><path d="M485.01 371.65H488.01M486.51 370.15V373.15" stroke="#e8b91e" stroke-width="1.2" fill="none"/><path d="M489.54 374.07H492.54M491.04 372.57V375.57" stroke="#e8b91e" stroke-width="1.2" fill="none"/><path d="M494.08 376.49H497.08M495.58 374.99V377.99" stroke="#e8b91e" stroke-width="1.2" fill="none"/><path d="M498.61 378.74H501.61M500.11 377.24V380.24" stroke="#e8b91e" stroke-width="1.2" fill="none"/><path d="M503.15 380.64H506.15M504.65 379.14V382.14" stroke="#e8b91e" stroke-width="1.2" fill="none"/><path d="M507.68 382.54H510.68M509.18 381.04V384.04" stroke="#e8b91e" stroke-width="1.2" fill="none"/><path d="M512.22 384.44H515.22M513.72 382.94V385.94" stroke="#e8b91e" stroke-width="1.2" fill="none"/><path d="M516.75 386H519.75M518.25 384.5V387.5" stroke="#e8b91e" stroke-width="1.2" fill="none"/><path d="M521.29 387.38H524.29M522.79 385.88V388.88" stroke="#e8b91e" stroke-width="1.2" fill="none"/><path d="M525.82 388.25H528.82M527.32 386.75V389.75" stroke="#e8b91e" stroke-width="1.2" fill="none"/><path d="M530.36 388.94H533.36M531.86 387.44V390.44" stroke="#e8b91e" stroke-width="1.2" fill="none"/><path d="M534.89 389.63H537.89M536.39 388.13V391.13" stroke="#e8b91e" stroke-width="1.2" fill="none"/><path d="M539.43 390.23H542.43M540.93 388.73V391.73" stroke="#e8b91e" stroke-width="1.2" fill="none"/><path d="M543.96 390.84H546.96M545.46 389.34V392.34" stroke="#e8b91e" stroke-width="1.2" fill="none"/><path d="M548.5 391.36H551.5M550 389.86V392.86" stroke="#e8b91e" stroke-width="1.2" fill="none"/><path d="M553.03 391.88H556.03M554.53 390.38V393.38" stroke="#e8b91e" stroke-width="1.2" fill="none"/><path d="M557.57 392.4H560.57M559.07 390.9V393.9" stroke="#e8b91e" stroke-width="1.2" fill="none"/><path d="M562.1 392.91H565.1M563.6 391.41V394.41" stroke="#e8b91e" stroke-width="1.2" fill="none"/><path d="M566.64 393.35H569.64M568.14 391.85V394.85" stroke="#e8b91e" stroke-width="1.2" fill="none"/><path d="M571.17 393.78H574.17M572.67 392.28V395.28" stroke="#e8b91e" stroke-width="1.2" fill="none"/><path d="M575.71 394.13H578.71M577.21 392.63V395.63" stroke="#e8b91e" stroke-width="1.2" fill="none"/><path d="M580.24 394.47H583.24M581.74 392.97V395.97" stroke="#e8b91e" stroke-width="1.2" fill="none"/><path d="M584.78 394.73H587.78M586.28 393.23V396.23" stroke="#e8b91e" stroke-width="1.2" fill="none"/><path d="M589.31 394.99H592.31M590.81 393.49V396.49" stroke="#e8b91e" stroke-width="1.2" fill="none"/><path d="M593.85 395.16H596.85M595.35 393.66V396.66" stroke="#e8b91e" stroke-width="1.2" fill="none"/><path d="M598.38 395.34H601.38M599.88 393.84V396.84" stroke="#e8b91e" stroke-width="1.2" fill="none"/><path d="M602.92 395.51H605.92M604.42 394.01V397.01" stroke="#e8b91e" stroke-width="1.2" fill="none"/><path d="M607.45 395.68H610.45M608.95 394.18V397.18" stroke="#e8b91e" stroke-width="1.2" fill="none"/><path d="M611.99 395.85H614.99M613.49 394.35V397.35" stroke="#e8b91e" stroke-width="1.2" fill="none"/><path d="M616.52 395.97H619.52M618.02 394.47V397.47" stroke="#e8b91e" stroke-width="1.2" fill="none"/><path d="M621.06 396.08H624.06M622.56 394.58V397.58" stroke="#e8b91e" stroke-width="1.2" fill="none"/><path d="M625.59 396.2H628.59M627.09 394.7V397.7" stroke="#e8b91e" stroke-width="1.2" fill="none"/><path d="M630.13 396.2H633.13M631.63 394.7V397.7" stroke="#e8b91e" stroke-width="1.2" fill="none"/><path d="M634.66 396.2H637.66M636.16 394.7V397.7" stroke="#e8b91e" stroke-width="1.2" fill="none"/><path d="M639.2 396.2H642.2M640.7 394.7V397.7" stroke="#e8b91e" stroke-width="1.2" fill="none"/><path d="M643.73 396.2H646.73M645.23 394.7V397.7" stroke="#e8b91e" stroke-width="1.2" fill="none"/><path d="M648.27 396.2H651.27M649.77 394.7V397.7" stroke="#e8b91e" stroke-width="1.2" fill="none"/><path d="M652.8 396.2H655.8M654.3 394.7V397.7" stroke="#e8b91e" stroke-width="1.2" fill="none"/><path d="M657.34 396.2H660.34M658.84 394.7V397.7" stroke="#e8b91e" stroke-width="1.2" fill="none"/><path d="M661.87 396.2H664.87M663.37 394.7V397.7" stroke="#e8b91e" stroke-width="1.2" fill="none"/><path d="M666.41 396.2H669.41M667.91 394.7V397.7" stroke="#e8b91e" stroke-width="1.2" fill="none"/><path d="M670.94 396.2H673.94M672.44 394.7V397.7" stroke="#e8b91e" stroke-width="1.2" fill="none"/><path d="M675.48 396.2H678.48M676.98 394.7V397.7" stroke="#e8b91e" stroke-width="1.2" fill="none"/><path d="M680.01 396.2H683.01M681.51 394.7V397.7" stroke="#e8b91e" stroke-width="1.2" fill="none"/><polyline points="377.67,223.3 382.2,223.47 386.74,226.59 391.27,230.04 395.81,234.88 400.34,237.13 404.88,241.45 409.41,243.88 413.95,252.87 418.48,260.82 423.02,262.03 427.55,263.59 432.09,267.56 436.62,267.91 441.16,273.61 445.69,281.74 450.23,283.3 454.76,288.31 459.3,295.4 463.83,302.66 468.37,304.56 472.9,304.91 477.44,305.6 481.97,315.11 486.51,319.78 491.04,323.93 495.58,326.87 500.11,330.33 504.65,331.88 509.18,336.38 513.72,342.77 518.25,346.4 522.79,346.75 527.32,347.79 531.86,350.73 536.39,352.98 540.93,353.67 545.46,355.74 550,357.82 554.53,362.31 559.07,365.77 563.6,373.55 568.14,375.11 572.67,376.49 577.21,378.05 581.74,379.43 586.28,382.37 590.81,383.75 595.35,383.75 599.88,387.04 604.42,387.73 608.95,389.11 613.49,389.63 618.02,391.53 622.56,392.74 627.09,392.91 631.63,392.91 636.16,393.26 640.7,393.61 645.23,393.95 649.77,394.13 654.3,394.47 658.84,394.99 663.37,395.68 667.91,396.03 672.44,396.2 676.98,396.2 681.51,396.2" stroke="#7bd04a" stroke-width="1.2" fill="none" stroke-linejoin="round"/><path d="M376.37 222L378.97 224.6M378.97 222L376.37 224.6" stroke="#74ca44" stroke-width="0.7" fill="none"/><path d="M380.9 222.17L383.5 224.77M383.5 222.17L380.9 224.77" stroke="#74ca44" stroke-width="0.7" fill="none"/><path d="M385.44 225.29L388.04 227.89M388.04 225.29L385.44 227.89" stroke="#74ca44" stroke-width="0.7" fill="none"/><path d="M389.97 228.74L392.57 231.34M392.57 228.74L389.97 231.34" stroke="#74ca44" stroke-width="0.7" fill="none"/><path d="M394.51 233.58L397.11 236.18M397.11 233.58L394.51 236.18" stroke="#74ca44" stroke-width="0.7" fill="none"/><path d="M399.04 235.83L401.64 238.43M401.64 235.83L399.04 238.43" stroke="#74ca44" stroke-width="0.7" fill="none"/><path d="M403.58 240.15L406.18 242.75M406.18 240.15L403.58 242.75" stroke="#74ca44" stroke-width="0.7" fill="none"/><path d="M408.11 242.58L410.71 245.18M410.71 242.58L408.11 245.18" stroke="#74ca44" stroke-width="0.7" fill="none"/><path d="M412.65 251.57L415.25 254.17M415.25 251.57L412.65 254.17" stroke="#74ca44" stroke-width="0.7" fill="none"/><path d="M417.18 259.52L419.78 262.12M419.78 259.52L417.18 262.12" stroke="#74ca44" stroke-width="0.7" fill="none"/><path d="M421.72 260.73L424.32 263.33M424.32 260.73L421.72 263.33" stroke="#74ca44" stroke-width="0.7" fill="none"/><path d="M426.25 262.29L428.85 264.89M428.85 262.29L426.25 264.89" stroke="#74ca44" stroke-width="0.7" fill="none"/><path d="M430.79 266.26L433.39 268.86M433.39 266.26L430.79 268.86" stroke="#74ca44" stroke-width="0.7" fill="none"/><path d="M435.32 266.61L437.92 269.21M437.92 266.61L435.32 269.21" stroke="#74ca44" stroke-width="0.7" fill="none"/><path d="M439.86 272.31L442.46 274.91M442.46 272.31L439.86 274.91" stroke="#74ca44" stroke-width="0.7" fill="none"/><path d="M444.39 280.44L446.99 283.04M446.99 280.44L444.39 283.04" stroke="#74ca44" stroke-width="0.7" fill="none"/><path d="M448.93 282L451.53 284.6M451.53 282L448.93 284.6" stroke="#74ca44" stroke-width="0.7" fill="none"/><path d="M453.46 287.01L456.06 289.61M456.06 287.01L453.46 289.61" stroke="#74ca44" stroke-width="0.7" fill="none"/><path d="M458 294.1L460.6 296.7M460.6 294.1L458 296.7" stroke="#74ca44" stroke-width="0.7" fill="none"/><path d="M462.53 301.36L465.13 303.96M465.13 301.36L462.53 303.96" stroke="#74ca44" stroke-width="0.7" fill="none"/><path d="M467.07 303.26L469.67 305.86M469.67 303.26L467.07 305.86" stroke="#74ca44" stroke-width="0.7" fill="none"/><path d="M471.6 303.61L474.2 306.21M474.2 303.61L471.6 306.21" stroke="#74ca44" stroke-width="0.7" fill="none"/><path d="M476.14 304.3L478.74 306.9M478.74 304.3L476.14 306.9" stroke="#74ca44" stroke-width="0.7" fill="none"/><path d="M480.67 313.81L483.27 316.41M483.27 313.81L480.67 316.41" stroke="#74ca44" stroke-width="0.7" fill="none"/><path d="M485.21 318.48L487.81 321.08M487.81 318.48L485.21 321.08" stroke="#74ca44" stroke-width="0.7" fill="none"/><path d="M489.74 322.63L492.34 325.23M492.34 322.63L489.74 325.23" stroke="#74ca44" stroke-width="0.7" fill="none"/><path d="M494.28 325.57L496.88 328.17M496.88 325.57L494.28 328.17" stroke="#74ca44" stroke-width="0.7" fill="none"/><path d="M498.81 329.03L501.41 331.63M501.41 329.03L498.81 331.63" stroke="#74ca44" stroke-width="0.7" fill="none"/><path d="M503.35 330.58L505.95 333.18M505.95 330.58L503.35 333.18" stroke="#74ca44" stroke-width="0.7" fill="none"/><path d="M507.88 335.08L510.48 337.68M510.48 335.08L507.88 337.68" stroke="#74ca44" stroke-width="0.7" fill="none"/><path d="M512.42 341.47L515.02 344.07M515.02 341.47L512.42 344.07" stroke="#74ca44" stroke-width="0.7" fill="none"/><path d="M516.95 345.1L519.55 347.7M519.55 345.1L516.95 347.7" stroke="#74ca44" stroke-width="0.7" fill="none"/><path d="M521.49 345.45L524.09 348.05M524.09 345.45L521.49 348.05" stroke="#74ca44" stroke-width="0.7" fill="none"/><path d="M526.02 346.49L528.62 349.09M528.62 346.49L526.02 349.09" stroke="#74ca44" stroke-width="0.7" fill="none"/><path d="M530.56 349.43L533.16 352.03M533.16 349.43L530.56 352.03" stroke="#74ca44" stroke-width="0.7" fill="none"/><path d="M535.09 351.68L537.69 354.28M537.69 351.68L535.09 354.28" stroke="#74ca44" stroke-width="0.7" fill="none"/><path d="M539.63 352.37L542.23 354.97M542.23 352.37L539.63 354.97" stroke="#74ca44" stroke-width="0.7" fill="none"/><path d="M544.16 354.44L546.76 357.04M546.76 354.44L544.16 357.04" stroke="#74ca44" stroke-width="0.7" fill="none"/><path d="M548.7 356.52L551.3 359.12M551.3 356.52L548.7 359.12" stroke="#74ca44" stroke-width="0.7" fill="none"/><path d="M553.23 361.01L555.83 363.61M555.83 361.01L553.23 363.61" stroke="#74ca44" stroke-width="0.7" fill="none"/><path d="M557.77 364.47L560.37 367.07M560.37 364.47L557.77 367.07" stroke="#74ca44" stroke-width="0.7" fill="none"/><path d="M562.3 372.25L564.9 374.85M564.9 372.25L562.3 374.85" stroke="#74ca44" stroke-width="0.7" fill="none"/><path d="M566.84 373.81L569.44 376.41M569.44 373.81L566.84 376.41" stroke="#74ca44" stroke-width="0.7" fill="none"/><path d="M571.37 375.19L573.97 377.79M573.97 375.19L571.37 377.79" stroke="#74ca44" stroke-width="0.7" fill="none"/><path d="M575.91 376.75L578.51 379.35M578.51 376.75L575.91 379.35" stroke="#74ca44" stroke-width="0.7" fill="none"/><path d="M580.44 378.13L583.04 380.73M583.04 378.13L580.44 380.73" stroke="#74ca44" stroke-width="0.7" fill="none"/><path d="M584.98 381.07L587.58 383.67M587.58 381.07L584.98 383.67" stroke="#74ca44" stroke-width="0.7" fill="none"/><path d="M589.51 382.45L592.11 385.05M592.11 382.45L589.51 385.05" stroke="#74ca44" stroke-width="0.7" fill="none"/><path d="M594.05 382.45L596.65 385.05M596.65 382.45L594.05 385.05" stroke="#74ca44" stroke-width="0.7" fill="none"/><path d="M598.58 385.74L601.18 388.34M601.18 385.74L598.58 388.34" stroke="#74ca44" stroke-width="0.7" fill="none"/><path d="M603.12 386.43L605.72 389.03M605.72 386.43L603.12 389.03" stroke="#74ca44" stroke-width="0.7" fill="none"/><path d="M607.65 387.81L610.25 390.41M610.25 387.81L607.65 390.41" stroke="#74ca44" stroke-width="0.7" fill="none"/><path d="M612.19 388.33L614.79 390.93M614.79 388.33L612.19 390.93" stroke="#74ca44" stroke-width="0.7" fill="none"/><path d="M616.72 390.23L619.32 392.83M619.32 390.23L616.72 392.83" stroke="#74ca44" stroke-width="0.7" fill="none"/><path d="M621.26 391.44L623.86 394.04M623.86 391.44L621.26 394.04" stroke="#74ca44" stroke-width="0.7" fill="none"/><path d="M625.79 391.61L628.39 394.21M628.39 391.61L625.79 394.21" stroke="#74ca44" stroke-width="0.7" fill="none"/><path d="M630.33 391.61L632.93 394.21M632.93 391.61L630.33 394.21" stroke="#74ca44" stroke-width="0.7" fill="none"/><path d="M634.86 391.96L637.46 394.56M637.46 391.96L634.86 394.56" stroke="#74ca44" stroke-width="0.7" fill="none"/><path d="M639.4 392.31L642 394.91M642 392.31L639.4 394.91" stroke="#74ca44" stroke-width="0.7" fill="none"/><path d="M643.93 392.65L646.53 395.25M646.53 392.65L643.93 395.25" stroke="#74ca44" stroke-width="0.7" fill="none"/><path d="M648.47 392.83L651.07 395.43M651.07 392.83L648.47 395.43" stroke="#74ca44" stroke-width="0.7" fill="none"/><path d="M653 393.17L655.6 395.77M655.6 393.17L653 395.77" stroke="#74ca44" stroke-width="0.7" fill="none"/><path d="M657.54 393.69L660.14 396.29M660.14 393.69L657.54 396.29" stroke="#74ca44" stroke-width="0.7" fill="none"/><path d="M662.07 394.38L664.67 396.98M664.67 394.38L662.07 396.98" stroke="#74ca44" stroke-width="0.7" fill="none"/><path d="M666.61 394.73L669.21 397.33M669.21 394.73L666.61 397.33" stroke="#74ca44" stroke-width="0.7" fill="none"/><path d="M671.14 394.9L673.74 397.5M673.74 394.9L671.14 397.5" stroke="#74ca44" stroke-width="0.7" fill="none"/><path d="M675.68 394.9L678.28 397.5M678.28 394.9L675.68 397.5" stroke="#74ca44" stroke-width="0.7" fill="none"/><path d="M680.21 394.9L682.81 397.5M682.81 394.9L680.21 397.5" stroke="#74ca44" stroke-width="0.7" fill="none"/><path d="M624.1 228.3H638.5" stroke="#4472c4" stroke-width="1.4"/><path d="M629 230L631.3 226.2L633.6 230Z" fill="#4472c4"/><text x="640.2" y="231.7" class="t10">Degree</text><path d="M624.1 243.5H638.5" stroke="#f0a070" stroke-width="1.4"/><circle cx="631.3" cy="243.5" r="1.75" fill="#ed7d31"/><text x="640.2" y="246.9" class="t10">Indegree</text><path d="M624.1 259.4H638.5" stroke="#e8b91e" stroke-width="1.4"/><path d="M629.8 259.4H632.8M631.3 257.9V260.9" stroke="#e8b91e" stroke-width="1.2" fill="none"/><text x="640.2" y="262.8" class="t10">Outdegree</text><path d="M624.1 274.4H638.5" stroke="#8fdc6a" stroke-width="1.4"/><path d="M630 273.1L632.6 275.7M632.6 273.1L630 275.7" stroke="#74ca44" stroke-width="0.7" fill="none"/><text x="640.2" y="277.8" class="t10">Rand</text></g>
</svg></body></html>
